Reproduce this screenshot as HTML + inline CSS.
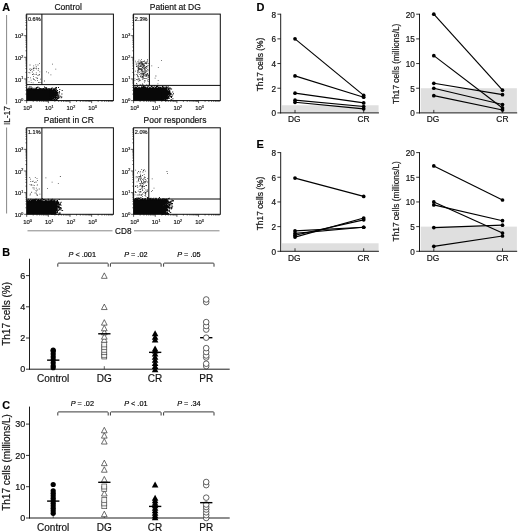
<!DOCTYPE html>
<html><head><meta charset="utf-8"><title>Figure</title>
<style>
html,body{margin:0;padding:0;background:#fff;}
body{width:520px;height:532px;overflow:hidden;font-family:"Liberation Sans",sans-serif;}
svg{display:block;will-change:transform;transform:translateZ(0);}
svg text{font-family:"Liberation Sans",sans-serif;stroke:#111;stroke-width:0.18px;}
</style></head><body>
<svg width="520" height="532" viewBox="0 0 520 532">
<rect width="520" height="532" fill="#fff"/>
<text x="68.20" y="10.00" font-size="8.5" text-anchor="middle" font-weight="normal" font-style="normal" fill="#111" >Control</text>
<rect x="26.70" y="89.20" width="24.50" height="11.40" fill="#080808"/>
<path d="M28.8 86.5h1v1h-1zM29.5 86.4h1v1h-1zM30.7 86.6h1v1h-1zM37.4 86.5h1v1h-1zM44.0 86.5h1v1h-1zM31.7 87.4h1v1h-1zM35.8 87.1h1v1h-1zM36.3 87.4h1v1h-1zM37.1 87.2h1v1h-1zM38.6 87.3h1v1h-1zM44.7 87.2h1v1h-1zM45.6 87.3h1v1h-1zM46.1 87.3h1v1h-1zM52.1 87.4h1v1h-1zM55.5 87.1h1v1h-1zM56.0 87.1h1v1h-1zM58.0 87.1h1v1h-1zM26.5 88.2h1v1h-1zM28.1 87.8h1v1h-1zM28.7 87.9h1v1h-1zM30.0 88.2h1v1h-1zM30.7 88.0h1v1h-1zM31.6 88.2h1v1h-1zM33.6 87.8h1v1h-1zM35.2 87.9h1v1h-1zM36.0 88.2h1v1h-1zM39.3 87.9h1v1h-1zM39.8 87.9h1v1h-1zM40.8 88.2h1v1h-1zM41.6 88.2h1v1h-1zM42.7 87.9h1v1h-1zM43.4 88.1h1v1h-1zM45.7 88.1h1v1h-1zM46.4 88.2h1v1h-1zM48.2 88.1h1v1h-1zM49.3 88.2h1v1h-1zM49.8 88.2h1v1h-1zM51.0 87.8h1v1h-1zM53.5 88.2h1v1h-1zM54.7 87.8h1v1h-1zM55.6 88.1h1v1h-1zM26.5 88.9h1v1h-1zM27.4 88.7h1v1h-1zM29.0 88.7h1v1h-1zM29.5 88.5h1v1h-1zM30.0 88.5h1v1h-1zM30.7 88.7h1v1h-1zM31.6 88.6h1v1h-1zM32.3 88.8h1v1h-1zM33.0 88.6h1v1h-1zM33.8 88.7h1v1h-1zM34.5 88.9h1v1h-1zM35.2 88.7h1v1h-1zM35.9 88.7h1v1h-1zM36.5 88.9h1v1h-1zM37.4 88.9h1v1h-1zM37.9 88.9h1v1h-1zM38.4 88.5h1v1h-1zM39.1 88.6h1v1h-1zM40.1 88.8h1v1h-1zM41.5 88.8h1v1h-1zM42.3 88.9h1v1h-1zM43.0 88.6h1v1h-1zM43.7 88.9h1v1h-1zM44.2 88.7h1v1h-1zM44.7 88.6h1v1h-1zM45.4 88.7h1v1h-1zM46.1 88.6h1v1h-1zM47.0 88.5h1v1h-1zM48.6 88.5h1v1h-1zM48.9 88.8h1v1h-1zM49.6 88.7h1v1h-1zM51.1 88.5h1v1h-1zM52.7 88.5h1v1h-1zM53.4 88.7h1v1h-1zM54.2 88.8h1v1h-1zM55.6 88.5h1v1h-1zM26.6 89.3h1v1h-1zM27.5 89.3h1v1h-1zM27.9 89.3h1v1h-1zM28.7 89.2h1v1h-1zM29.5 89.2h1v1h-1zM30.4 89.2h1v1h-1zM30.9 89.4h1v1h-1zM31.5 89.4h1v1h-1zM32.5 89.3h1v1h-1zM33.1 89.5h1v1h-1zM33.6 89.2h1v1h-1zM34.2 89.5h1v1h-1zM34.9 89.2h1v1h-1zM36.0 89.5h1v1h-1zM36.4 89.3h1v1h-1zM37.0 89.4h1v1h-1zM38.1 89.6h1v1h-1zM38.5 89.6h1v1h-1zM39.2 89.2h1v1h-1zM40.0 89.4h1v1h-1zM40.7 89.2h1v1h-1zM41.2 89.3h1v1h-1zM41.9 89.3h1v1h-1zM42.8 89.4h1v1h-1zM43.6 89.5h1v1h-1zM44.1 89.3h1v1h-1zM45.7 89.5h1v1h-1zM46.5 89.6h1v1h-1zM47.1 89.6h1v1h-1zM47.7 89.4h1v1h-1zM48.6 89.6h1v1h-1zM49.3 89.5h1v1h-1zM49.7 89.2h1v1h-1zM50.4 89.2h1v1h-1zM51.2 89.5h1v1h-1zM52.0 89.4h1v1h-1zM52.7 89.5h1v1h-1zM53.3 89.5h1v1h-1zM54.1 89.3h1v1h-1zM54.6 89.5h1v1h-1zM55.5 89.6h1v1h-1zM56.0 89.4h1v1h-1zM49.6 90.0h1v1h-1zM50.6 90.2h1v1h-1zM51.2 90.1h1v1h-1zM51.7 90.3h1v1h-1zM52.8 90.3h1v1h-1zM53.3 90.3h1v1h-1zM54.0 90.0h1v1h-1zM54.9 90.0h1v1h-1zM55.2 90.1h1v1h-1zM57.0 90.1h1v1h-1zM61.7 90.1h1v1h-1zM49.7 91.0h1v1h-1zM50.6 91.0h1v1h-1zM51.4 90.9h1v1h-1zM51.8 90.7h1v1h-1zM52.8 90.8h1v1h-1zM53.3 90.7h1v1h-1zM53.8 91.0h1v1h-1zM54.9 90.7h1v1h-1zM55.4 90.6h1v1h-1zM56.3 91.0h1v1h-1zM49.7 91.3h1v1h-1zM50.3 91.5h1v1h-1zM51.1 91.6h1v1h-1zM51.8 91.6h1v1h-1zM52.6 91.4h1v1h-1zM53.1 91.4h1v1h-1zM54.0 91.4h1v1h-1zM54.9 91.5h1v1h-1zM55.2 91.3h1v1h-1zM55.9 91.4h1v1h-1zM56.8 91.7h1v1h-1zM49.8 92.3h1v1h-1zM50.4 92.1h1v1h-1zM51.1 92.2h1v1h-1zM52.1 92.4h1v1h-1zM52.4 92.3h1v1h-1zM53.3 92.2h1v1h-1zM53.9 92.4h1v1h-1zM54.9 92.4h1v1h-1zM55.2 92.0h1v1h-1zM56.2 92.4h1v1h-1zM56.9 92.3h1v1h-1zM57.5 92.0h1v1h-1zM49.6 92.7h1v1h-1zM50.5 92.8h1v1h-1zM51.3 92.7h1v1h-1zM51.9 93.1h1v1h-1zM52.8 92.9h1v1h-1zM53.2 93.1h1v1h-1zM53.9 92.7h1v1h-1zM54.8 92.9h1v1h-1zM55.5 93.1h1v1h-1zM55.9 92.8h1v1h-1zM56.9 92.7h1v1h-1zM49.7 93.8h1v1h-1zM50.3 93.5h1v1h-1zM51.3 93.8h1v1h-1zM51.8 93.5h1v1h-1zM52.4 93.4h1v1h-1zM53.2 93.8h1v1h-1zM54.1 93.8h1v1h-1zM54.6 93.4h1v1h-1zM55.5 93.4h1v1h-1zM56.0 93.5h1v1h-1zM56.6 93.4h1v1h-1zM57.4 93.8h1v1h-1zM58.4 93.5h1v1h-1zM49.6 94.2h1v1h-1zM50.3 94.3h1v1h-1zM51.3 94.1h1v1h-1zM51.7 94.5h1v1h-1zM52.7 94.5h1v1h-1zM53.2 94.5h1v1h-1zM53.9 94.4h1v1h-1zM54.6 94.1h1v1h-1zM55.6 94.4h1v1h-1zM56.7 94.3h1v1h-1zM50.0 95.1h1v1h-1zM50.4 94.9h1v1h-1zM51.3 94.8h1v1h-1zM52.0 94.9h1v1h-1zM52.4 95.0h1v1h-1zM53.5 95.2h1v1h-1zM54.5 94.8h1v1h-1zM55.5 95.0h1v1h-1zM56.1 95.1h1v1h-1zM56.9 95.2h1v1h-1zM58.4 94.9h1v1h-1zM49.8 95.6h1v1h-1zM50.7 95.7h1v1h-1zM51.4 95.8h1v1h-1zM51.7 95.7h1v1h-1zM52.8 95.9h1v1h-1zM53.2 95.5h1v1h-1zM54.2 95.7h1v1h-1zM54.6 95.9h1v1h-1zM55.3 95.8h1v1h-1zM56.8 95.8h1v1h-1zM57.4 95.5h1v1h-1zM58.1 95.7h1v1h-1zM60.2 95.8h1v1h-1zM49.6 96.2h1v1h-1zM50.5 96.5h1v1h-1zM51.0 96.5h1v1h-1zM51.8 96.3h1v1h-1zM52.5 96.4h1v1h-1zM53.3 96.6h1v1h-1zM54.5 96.5h1v1h-1zM55.2 96.6h1v1h-1zM56.3 96.4h1v1h-1zM58.9 96.5h1v1h-1zM49.8 97.3h1v1h-1zM50.5 97.3h1v1h-1zM51.0 96.9h1v1h-1zM52.1 97.1h1v1h-1zM52.8 97.0h1v1h-1zM53.4 97.3h1v1h-1zM54.1 97.0h1v1h-1zM54.9 97.3h1v1h-1zM55.3 97.0h1v1h-1zM56.0 96.9h1v1h-1zM56.9 97.3h1v1h-1zM57.5 97.2h1v1h-1zM58.4 96.9h1v1h-1zM49.8 97.8h1v1h-1zM50.6 97.8h1v1h-1zM51.3 97.9h1v1h-1zM51.7 97.8h1v1h-1zM52.4 97.8h1v1h-1zM53.3 97.8h1v1h-1zM54.1 97.6h1v1h-1zM54.8 97.8h1v1h-1zM55.4 97.7h1v1h-1zM57.0 98.0h1v1h-1zM49.6 98.4h1v1h-1zM50.3 98.7h1v1h-1zM51.4 98.3h1v1h-1zM52.1 98.4h1v1h-1zM52.6 98.4h1v1h-1zM53.1 98.3h1v1h-1zM54.9 98.3h1v1h-1zM56.1 98.6h1v1h-1zM50.0 99.2h1v1h-1zM50.6 99.2h1v1h-1zM51.3 99.0h1v1h-1zM51.8 99.3h1v1h-1zM53.4 99.1h1v1h-1zM53.8 99.0h1v1h-1zM54.7 99.2h1v1h-1zM56.0 99.3h1v1h-1zM56.6 99.1h1v1h-1zM49.7 99.7h1v1h-1zM50.6 100.1h1v1h-1zM51.2 99.8h1v1h-1zM52.0 99.9h1v1h-1zM52.7 99.9h1v1h-1zM53.4 99.8h1v1h-1zM54.7 99.9h1v1h-1zM55.2 100.0h1v1h-1zM56.1 100.1h1v1h-1zM56.6 100.0h1v1h-1zM58.2 97.9h1v1h-1zM58.4 96.8h1v1h-1zM61.4 93.6h1v1h-1zM58.9 91.1h1v1h-1zM59.3 89.0h1v1h-1zM59.1 92.3h1v1h-1zM58.2 97.9h1v1h-1zM61.3 96.4h1v1h-1zM58.5 93.4h1v1h-1zM60.7 97.3h1v1h-1z" fill="#080808"/>
<path d="M33.4 79.3h.8v.8h-.8zM33.4 67.4h.8v.8h-.8zM35.6 67.9h.8v.8h-.8zM29.1 68.8h.8v.8h-.8zM39.1 62.9h.8v.8h-.8zM38.3 68.4h.8v.8h-.8zM35.7 77.2h.8v.8h-.8zM33.4 67.4h.8v.8h-.8zM37.9 68.2h.8v.8h-.8zM34.3 67.7h.8v.8h-.8zM32.9 77.9h.8v.8h-.8zM37.6 64.6h.8v.8h-.8zM34.6 74.0h.8v.8h-.8zM30.3 70.1h.8v.8h-.8zM36.2 74.0h.8v.8h-.8zM36.0 68.4h.8v.8h-.8zM37.2 77.7h.8v.8h-.8zM28.5 72.3h.8v.8h-.8zM33.1 67.9h.8v.8h-.8zM29.5 72.5h.8v.8h-.8zM33.0 68.2h.8v.8h-.8zM32.6 68.8h.8v.8h-.8zM33.1 76.0h.8v.8h-.8zM33.1 73.6h.8v.8h-.8zM39.4 71.4h.8v.8h-.8zM37.5 75.2h.8v.8h-.8zM38.6 74.6h.8v.8h-.8zM33.7 79.1h.8v.8h-.8zM31.9 71.6h.8v.8h-.8zM37.8 69.9h.8v.8h-.8zM30.7 79.8h.8v.8h-.8zM29.6 64.6h.8v.8h-.8zM36.7 78.3h.8v.8h-.8zM36.1 66.5h.8v.8h-.8zM35.4 64.4h.8v.8h-.8zM39.2 74.0h.8v.8h-.8zM33.4 70.0h.8v.8h-.8zM30.4 68.4h.8v.8h-.8zM35.8 66.4h.8v.8h-.8zM35.9 72.5h.8v.8h-.8zM32.2 74.1h.8v.8h-.8zM31.1 69.2h.8v.8h-.8zM33.3 65.5h.8v.8h-.8zM34.8 80.3h.8v.8h-.8zM32.7 82.4h.8v.8h-.8zM30.8 82.2h.8v.8h-.8zM30.0 77.4h.8v.8h-.8zM38.0 82.1h.8v.8h-.8zM39.1 82.2h.8v.8h-.8zM28.6 81.5h.8v.8h-.8zM37.1 80.3h.8v.8h-.8zM40.2 78.8h.8v.8h-.8zM40.6 82.1h.8v.8h-.8zM27.7 77.1h.8v.8h-.8zM52.0 63.7h.8v.8h-.8zM55.4 68.7h.8v.8h-.8zM44.0 80.6h.8v.8h-.8zM48.2 72.5h.8v.8h-.8zM50.5 74.4h.8v.8h-.8zM46.2 71.5h.8v.8h-.8z" fill="#2a2a2a"/>
<rect x="26.70" y="14.10" width="86.70" height="86.50" fill="none" stroke="#0a0a0a" stroke-width="1"/>
<line x1="41.90" y1="14.10" x2="41.90" y2="84.60" stroke="#080808" stroke-width="1.0"/>
<line x1="26.70" y1="84.60" x2="113.40" y2="84.60" stroke="#080808" stroke-width="1.0"/>
<text x="27.90" y="20.50" font-size="5.6" text-anchor="start" font-weight="normal" font-style="normal" fill="#222" >0.6%</text>
<path d="M26.70 100.60v2.5M26.70 100.60h-2.5M33.22 100.60v1.2M26.70 94.08h-1.2M37.03 100.60v1.2M26.70 90.27h-1.2M39.73 100.60v1.2M26.70 87.57h-1.2M41.83 100.60v1.2M26.70 85.47h-1.2M43.55 100.60v1.2M26.70 83.75h-1.2M45.00 100.60v1.2M26.70 82.30h-1.2M46.25 100.60v1.2M26.70 81.05h-1.2M47.36 100.60v1.2M26.70 79.94h-1.2M48.35 100.60v2.5M26.70 78.95h-2.5M54.87 100.60v1.2M26.70 72.43h-1.2M58.68 100.60v1.2M26.70 68.62h-1.2M61.38 100.60v1.2M26.70 65.92h-1.2M63.48 100.60v1.2M26.70 63.82h-1.2M65.20 100.60v1.2M26.70 62.10h-1.2M66.65 100.60v1.2M26.70 60.65h-1.2M67.90 100.60v1.2M26.70 59.40h-1.2M69.01 100.60v1.2M26.70 58.29h-1.2M70.00 100.60v2.5M26.70 57.30h-2.5M76.52 100.60v1.2M26.70 50.78h-1.2M80.33 100.60v1.2M26.70 46.97h-1.2M83.03 100.60v1.2M26.70 44.27h-1.2M85.13 100.60v1.2M26.70 42.17h-1.2M86.85 100.60v1.2M26.70 40.45h-1.2M88.30 100.60v1.2M26.70 39.00h-1.2M89.55 100.60v1.2M26.70 37.75h-1.2M90.66 100.60v1.2M26.70 36.64h-1.2M91.65 100.60v2.5M26.70 35.65h-2.5M98.17 100.60v1.2M26.70 29.13h-1.2M101.98 100.60v1.2M26.70 25.32h-1.2M104.68 100.60v1.2M26.70 22.62h-1.2M106.78 100.60v1.2M26.70 20.52h-1.2M108.50 100.60v1.2M26.70 18.80h-1.2M109.95 100.60v1.2M26.70 17.35h-1.2M111.20 100.60v1.2M26.70 16.10h-1.2M112.31 100.60v1.2M26.70 14.99h-1.2" stroke="#111" stroke-width="0.7" fill="none"/>
<text x="23.30" y="110.40" font-size="5.9" fill="#1a1a1a">10<tspan font-size="3.7" dy="-2.2">0</tspan></text>
<text x="14.70" y="103.20" font-size="5.9" fill="#1a1a1a">10<tspan font-size="3.7" dy="-2.2">0</tspan></text>
<text x="44.95" y="110.40" font-size="5.9" fill="#1a1a1a">10<tspan font-size="3.7" dy="-2.2">1</tspan></text>
<text x="14.70" y="81.55" font-size="5.9" fill="#1a1a1a">10<tspan font-size="3.7" dy="-2.2">1</tspan></text>
<text x="66.60" y="110.40" font-size="5.9" fill="#1a1a1a">10<tspan font-size="3.7" dy="-2.2">2</tspan></text>
<text x="14.70" y="59.90" font-size="5.9" fill="#1a1a1a">10<tspan font-size="3.7" dy="-2.2">2</tspan></text>
<text x="88.25" y="110.40" font-size="5.9" fill="#1a1a1a">10<tspan font-size="3.7" dy="-2.2">3</tspan></text>
<text x="14.70" y="38.25" font-size="5.9" fill="#1a1a1a">10<tspan font-size="3.7" dy="-2.2">3</tspan></text>
<text x="175.30" y="10.00" font-size="8.5" text-anchor="middle" font-weight="normal" font-style="normal" fill="#111" >Patient at DG</text>
<rect x="133.60" y="88.00" width="29.00" height="12.60" fill="#080808"/>
<path d="M142.9 85.5h1v1h-1zM153.8 85.4h1v1h-1zM156.9 85.6h1v1h-1zM133.6 86.3h1v1h-1zM136.9 85.9h1v1h-1zM141.1 86.3h1v1h-1zM142.8 86.2h1v1h-1zM143.4 86.0h1v1h-1zM144.6 86.3h1v1h-1zM147.7 86.1h1v1h-1zM150.9 86.0h1v1h-1zM151.6 85.9h1v1h-1zM156.0 86.0h1v1h-1zM156.9 86.0h1v1h-1zM161.8 86.3h1v1h-1zM162.1 86.0h1v1h-1zM165.9 86.2h1v1h-1zM167.7 86.2h1v1h-1zM133.5 86.6h1v1h-1zM135.1 86.6h1v1h-1zM135.9 86.7h1v1h-1zM138.5 86.6h1v1h-1zM141.2 87.0h1v1h-1zM142.1 86.6h1v1h-1zM142.5 86.9h1v1h-1zM143.2 87.0h1v1h-1zM144.1 86.6h1v1h-1zM145.0 86.7h1v1h-1zM145.5 86.7h1v1h-1zM147.1 86.6h1v1h-1zM149.0 86.7h1v1h-1zM149.6 86.7h1v1h-1zM152.4 87.0h1v1h-1zM153.3 86.7h1v1h-1zM154.8 86.7h1v1h-1zM155.1 87.0h1v1h-1zM155.8 86.8h1v1h-1zM157.4 86.6h1v1h-1zM158.2 86.9h1v1h-1zM158.6 86.6h1v1h-1zM160.1 86.7h1v1h-1zM162.9 86.6h1v1h-1zM164.5 86.6h1v1h-1zM166.0 87.0h1v1h-1zM167.4 86.8h1v1h-1zM133.4 87.6h1v1h-1zM134.5 87.4h1v1h-1zM134.9 87.6h1v1h-1zM135.9 87.7h1v1h-1zM136.4 87.5h1v1h-1zM136.9 87.7h1v1h-1zM137.6 87.3h1v1h-1zM138.7 87.3h1v1h-1zM139.3 87.3h1v1h-1zM139.9 87.5h1v1h-1zM140.7 87.3h1v1h-1zM141.8 87.3h1v1h-1zM142.7 87.4h1v1h-1zM143.4 87.3h1v1h-1zM144.3 87.3h1v1h-1zM144.9 87.3h1v1h-1zM145.7 87.4h1v1h-1zM146.4 87.5h1v1h-1zM147.1 87.6h1v1h-1zM147.5 87.4h1v1h-1zM148.5 87.7h1v1h-1zM149.9 87.3h1v1h-1zM150.6 87.7h1v1h-1zM151.1 87.6h1v1h-1zM151.8 87.3h1v1h-1zM152.5 87.3h1v1h-1zM153.4 87.6h1v1h-1zM154.8 87.7h1v1h-1zM156.1 87.4h1v1h-1zM156.6 87.5h1v1h-1zM158.0 87.5h1v1h-1zM159.0 87.4h1v1h-1zM159.6 87.3h1v1h-1zM160.4 87.5h1v1h-1zM160.9 87.5h1v1h-1zM161.4 87.3h1v1h-1zM162.3 87.4h1v1h-1zM162.8 87.5h1v1h-1zM163.8 87.5h1v1h-1zM164.3 87.6h1v1h-1zM165.1 87.6h1v1h-1zM165.7 87.4h1v1h-1zM166.5 87.4h1v1h-1zM167.0 87.4h1v1h-1zM168.6 87.5h1v1h-1zM133.6 88.3h1v1h-1zM134.2 88.4h1v1h-1zM134.8 88.1h1v1h-1zM135.8 88.3h1v1h-1zM136.6 88.2h1v1h-1zM137.2 88.3h1v1h-1zM137.9 88.3h1v1h-1zM138.3 88.4h1v1h-1zM139.3 88.2h1v1h-1zM140.1 88.2h1v1h-1zM140.7 88.4h1v1h-1zM141.2 88.2h1v1h-1zM142.1 88.1h1v1h-1zM142.7 88.1h1v1h-1zM143.5 88.4h1v1h-1zM144.1 88.0h1v1h-1zM144.6 88.2h1v1h-1zM145.3 88.4h1v1h-1zM146.4 88.4h1v1h-1zM146.8 88.2h1v1h-1zM147.4 88.0h1v1h-1zM148.3 88.4h1v1h-1zM149.0 88.4h1v1h-1zM149.7 88.3h1v1h-1zM150.3 88.2h1v1h-1zM151.3 88.3h1v1h-1zM151.6 88.1h1v1h-1zM152.5 88.2h1v1h-1zM153.4 88.2h1v1h-1zM154.0 88.4h1v1h-1zM154.6 88.4h1v1h-1zM155.2 88.4h1v1h-1zM156.0 88.0h1v1h-1zM156.8 88.4h1v1h-1zM158.1 88.0h1v1h-1zM158.8 88.2h1v1h-1zM159.3 88.3h1v1h-1zM160.1 88.4h1v1h-1zM160.7 88.2h1v1h-1zM161.5 88.3h1v1h-1zM162.2 88.4h1v1h-1zM163.1 88.0h1v1h-1zM163.7 88.1h1v1h-1zM164.4 88.4h1v1h-1zM165.1 88.0h1v1h-1zM165.9 88.0h1v1h-1zM166.3 88.2h1v1h-1zM168.1 88.0h1v1h-1zM168.7 88.1h1v1h-1zM161.4 89.1h1v1h-1zM162.5 88.9h1v1h-1zM162.9 88.7h1v1h-1zM163.9 88.8h1v1h-1zM164.6 88.8h1v1h-1zM165.3 88.9h1v1h-1zM165.7 88.8h1v1h-1zM166.4 88.8h1v1h-1zM168.0 88.8h1v1h-1zM168.5 88.7h1v1h-1zM161.5 89.5h1v1h-1zM162.2 89.5h1v1h-1zM163.1 89.5h1v1h-1zM163.8 89.4h1v1h-1zM164.6 89.4h1v1h-1zM165.3 89.8h1v1h-1zM165.7 89.7h1v1h-1zM166.7 89.5h1v1h-1zM167.8 89.6h1v1h-1zM168.7 89.5h1v1h-1zM161.5 90.4h1v1h-1zM162.4 90.3h1v1h-1zM162.9 90.1h1v1h-1zM163.9 90.2h1v1h-1zM164.2 90.3h1v1h-1zM165.1 90.2h1v1h-1zM165.7 90.2h1v1h-1zM166.6 90.2h1v1h-1zM167.4 90.4h1v1h-1zM169.2 90.1h1v1h-1zM161.7 90.8h1v1h-1zM162.5 91.1h1v1h-1zM162.8 90.8h1v1h-1zM163.5 90.9h1v1h-1zM164.2 90.9h1v1h-1zM164.9 91.2h1v1h-1zM165.9 90.9h1v1h-1zM166.6 90.9h1v1h-1zM167.4 91.1h1v1h-1zM167.7 91.2h1v1h-1zM168.4 90.9h1v1h-1zM169.4 90.9h1v1h-1zM161.8 91.7h1v1h-1zM162.4 91.8h1v1h-1zM163.1 91.7h1v1h-1zM163.8 91.7h1v1h-1zM164.6 91.5h1v1h-1zM164.9 91.8h1v1h-1zM165.7 91.7h1v1h-1zM166.6 91.7h1v1h-1zM167.0 91.6h1v1h-1zM167.8 91.6h1v1h-1zM168.7 91.8h1v1h-1zM169.2 91.7h1v1h-1zM161.6 92.5h1v1h-1zM162.4 92.4h1v1h-1zM163.1 92.6h1v1h-1zM163.6 92.3h1v1h-1zM164.2 92.3h1v1h-1zM165.2 92.4h1v1h-1zM165.7 92.4h1v1h-1zM166.3 92.2h1v1h-1zM167.4 92.5h1v1h-1zM168.0 92.6h1v1h-1zM168.4 92.4h1v1h-1zM169.1 92.4h1v1h-1zM170.2 92.5h1v1h-1zM161.8 93.0h1v1h-1zM162.4 93.3h1v1h-1zM162.8 93.2h1v1h-1zM163.8 93.0h1v1h-1zM164.6 93.0h1v1h-1zM165.1 93.0h1v1h-1zM165.7 92.9h1v1h-1zM166.6 93.3h1v1h-1zM167.4 93.3h1v1h-1zM167.9 92.9h1v1h-1zM168.6 92.9h1v1h-1zM170.0 93.3h1v1h-1zM170.5 93.1h1v1h-1zM173.0 93.3h1v1h-1zM161.6 93.8h1v1h-1zM162.3 93.9h1v1h-1zM163.2 93.6h1v1h-1zM163.7 93.8h1v1h-1zM164.2 93.6h1v1h-1zM165.1 94.0h1v1h-1zM166.0 94.0h1v1h-1zM166.6 94.0h1v1h-1zM167.3 93.9h1v1h-1zM167.9 94.0h1v1h-1zM168.7 93.7h1v1h-1zM169.5 93.6h1v1h-1zM170.1 93.8h1v1h-1zM170.8 93.7h1v1h-1zM161.8 94.5h1v1h-1zM162.5 94.4h1v1h-1zM163.0 94.4h1v1h-1zM163.7 94.4h1v1h-1zM164.2 94.5h1v1h-1zM164.9 94.5h1v1h-1zM165.8 94.7h1v1h-1zM166.6 94.6h1v1h-1zM167.4 94.6h1v1h-1zM168.1 94.4h1v1h-1zM168.8 94.5h1v1h-1zM170.1 94.3h1v1h-1zM172.1 94.4h1v1h-1zM161.8 95.2h1v1h-1zM162.5 95.0h1v1h-1zM162.9 95.3h1v1h-1zM163.9 95.0h1v1h-1zM164.5 95.4h1v1h-1zM164.9 95.3h1v1h-1zM165.8 95.4h1v1h-1zM166.7 95.3h1v1h-1zM167.0 95.2h1v1h-1zM169.1 95.0h1v1h-1zM161.7 96.1h1v1h-1zM162.1 95.8h1v1h-1zM163.0 96.1h1v1h-1zM163.5 95.7h1v1h-1zM164.5 95.8h1v1h-1zM164.9 96.1h1v1h-1zM166.0 96.0h1v1h-1zM166.4 95.8h1v1h-1zM167.7 95.7h1v1h-1zM168.6 95.9h1v1h-1zM170.7 95.8h1v1h-1zM171.4 96.1h1v1h-1zM161.5 96.6h1v1h-1zM162.5 96.8h1v1h-1zM163.0 96.7h1v1h-1zM163.8 96.7h1v1h-1zM164.3 96.5h1v1h-1zM165.3 96.8h1v1h-1zM165.7 96.7h1v1h-1zM166.5 96.7h1v1h-1zM167.2 96.6h1v1h-1zM167.8 96.5h1v1h-1zM161.6 97.2h1v1h-1zM162.1 97.2h1v1h-1zM163.1 97.3h1v1h-1zM163.6 97.5h1v1h-1zM164.2 97.1h1v1h-1zM165.3 97.2h1v1h-1zM165.8 97.5h1v1h-1zM166.5 97.5h1v1h-1zM167.1 97.1h1v1h-1zM167.8 97.4h1v1h-1zM168.5 97.2h1v1h-1zM161.5 97.8h1v1h-1zM162.3 98.2h1v1h-1zM163.2 97.9h1v1h-1zM163.8 98.1h1v1h-1zM164.5 97.9h1v1h-1zM165.1 97.8h1v1h-1zM165.7 98.0h1v1h-1zM166.4 98.0h1v1h-1zM167.4 98.0h1v1h-1zM168.7 98.1h1v1h-1zM161.6 98.8h1v1h-1zM162.2 98.8h1v1h-1zM163.1 98.8h1v1h-1zM163.6 98.8h1v1h-1zM165.0 98.7h1v1h-1zM166.3 98.7h1v1h-1zM161.8 99.3h1v1h-1zM162.1 99.5h1v1h-1zM162.8 99.2h1v1h-1zM163.6 99.6h1v1h-1zM164.5 99.3h1v1h-1zM165.1 99.3h1v1h-1zM166.6 99.2h1v1h-1zM161.5 100.0h1v1h-1zM162.4 100.0h1v1h-1zM163.7 99.9h1v1h-1zM164.6 100.0h1v1h-1zM165.3 100.0h1v1h-1zM165.8 100.3h1v1h-1zM166.6 100.1h1v1h-1zM170.6 99.3h1v1h-1zM169.7 87.5h1v1h-1zM170.6 96.4h1v1h-1zM170.2 88.6h1v1h-1zM171.1 88.5h1v1h-1zM172.2 91.5h1v1h-1zM172.4 98.2h1v1h-1zM171.2 99.4h1v1h-1zM171.0 97.1h1v1h-1zM169.9 95.8h1v1h-1z" fill="#080808"/>
<path d="M137.9 69.3h.8v.8h-.8zM141.0 62.5h.8v.8h-.8zM138.5 63.6h.8v.8h-.8zM147.6 70.2h.8v.8h-.8zM144.6 72.4h.8v.8h-.8zM135.1 70.8h.8v.8h-.8zM147.3 65.5h.8v.8h-.8zM143.5 72.0h.8v.8h-.8zM139.8 65.5h.8v.8h-.8zM140.5 73.7h.8v.8h-.8zM141.5 61.7h.8v.8h-.8zM138.6 59.5h.8v.8h-.8zM139.8 66.3h.8v.8h-.8zM137.7 77.4h.8v.8h-.8zM142.7 77.2h.8v.8h-.8zM144.8 68.6h.8v.8h-.8zM137.9 77.9h.8v.8h-.8zM142.1 72.6h.8v.8h-.8zM144.7 69.7h.8v.8h-.8zM137.8 67.4h.8v.8h-.8zM141.9 64.1h.8v.8h-.8zM147.3 73.2h.8v.8h-.8zM137.1 71.5h.8v.8h-.8zM142.4 77.7h.8v.8h-.8zM143.6 64.4h.8v.8h-.8zM142.5 76.1h.8v.8h-.8zM137.4 70.1h.8v.8h-.8zM138.5 66.9h.8v.8h-.8zM138.5 70.8h.8v.8h-.8zM140.7 63.2h.8v.8h-.8zM140.1 69.3h.8v.8h-.8zM143.3 75.6h.8v.8h-.8zM140.6 65.0h.8v.8h-.8zM144.6 70.1h.8v.8h-.8zM141.8 67.4h.8v.8h-.8zM142.9 75.2h.8v.8h-.8zM145.1 77.9h.8v.8h-.8zM140.6 64.9h.8v.8h-.8zM147.1 60.4h.8v.8h-.8zM141.1 69.8h.8v.8h-.8zM143.7 74.6h.8v.8h-.8zM141.0 69.5h.8v.8h-.8zM142.9 73.1h.8v.8h-.8zM142.6 69.8h.8v.8h-.8zM139.2 78.6h.8v.8h-.8zM146.8 73.4h.8v.8h-.8zM147.4 74.3h.8v.8h-.8zM146.0 66.1h.8v.8h-.8zM144.1 69.0h.8v.8h-.8zM145.9 76.2h.8v.8h-.8zM140.8 64.1h.8v.8h-.8zM139.6 65.8h.8v.8h-.8zM137.8 70.8h.8v.8h-.8zM137.0 74.6h.8v.8h-.8zM141.2 61.2h.8v.8h-.8zM141.7 70.8h.8v.8h-.8zM140.4 73.1h.8v.8h-.8zM139.5 69.2h.8v.8h-.8zM141.9 72.5h.8v.8h-.8zM143.0 73.6h.8v.8h-.8zM141.7 63.2h.8v.8h-.8zM146.7 75.0h.8v.8h-.8zM140.4 68.5h.8v.8h-.8zM145.7 75.6h.8v.8h-.8zM144.6 71.8h.8v.8h-.8zM142.1 64.6h.8v.8h-.8zM140.4 61.8h.8v.8h-.8zM146.3 66.0h.8v.8h-.8zM141.4 74.4h.8v.8h-.8zM144.1 67.0h.8v.8h-.8zM138.5 64.2h.8v.8h-.8zM141.9 71.0h.8v.8h-.8zM137.8 68.8h.8v.8h-.8zM143.4 64.3h.8v.8h-.8zM142.3 63.8h.8v.8h-.8zM138.4 60.8h.8v.8h-.8zM140.0 66.3h.8v.8h-.8zM138.9 69.0h.8v.8h-.8zM136.1 66.1h.8v.8h-.8zM142.4 73.9h.8v.8h-.8zM137.1 72.4h.8v.8h-.8zM138.0 65.2h.8v.8h-.8zM138.1 66.8h.8v.8h-.8zM143.7 73.0h.8v.8h-.8zM136.0 74.3h.8v.8h-.8zM141.3 62.3h.8v.8h-.8zM146.4 78.1h.8v.8h-.8zM147.7 79.1h.8v.8h-.8zM143.2 74.0h.8v.8h-.8zM139.8 63.3h.8v.8h-.8zM146.8 61.6h.8v.8h-.8zM142.1 75.9h.8v.8h-.8zM137.9 69.7h.8v.8h-.8zM141.8 76.4h.8v.8h-.8zM136.6 65.0h.8v.8h-.8zM141.9 77.5h.8v.8h-.8zM147.1 59.2h.8v.8h-.8zM140.3 62.1h.8v.8h-.8zM135.8 63.9h.8v.8h-.8zM142.1 70.6h.8v.8h-.8zM139.7 79.7h.8v.8h-.8zM144.7 66.7h.8v.8h-.8zM140.5 66.3h.8v.8h-.8zM137.3 67.4h.8v.8h-.8zM144.8 74.6h.8v.8h-.8zM139.9 68.0h.8v.8h-.8zM144.9 68.7h.8v.8h-.8zM147.7 63.1h.8v.8h-.8zM146.3 67.9h.8v.8h-.8zM138.5 61.8h.8v.8h-.8zM146.2 62.6h.8v.8h-.8zM142.9 66.1h.8v.8h-.8zM144.4 70.7h.8v.8h-.8zM140.1 76.4h.8v.8h-.8zM138.7 66.3h.8v.8h-.8zM145.6 67.5h.8v.8h-.8zM138.7 62.2h.8v.8h-.8zM141.0 65.6h.8v.8h-.8zM138.3 76.3h.8v.8h-.8zM147.4 69.1h.8v.8h-.8zM141.8 66.5h.8v.8h-.8zM144.5 62.9h.8v.8h-.8zM143.2 61.2h.8v.8h-.8zM143.8 64.5h.8v.8h-.8zM141.8 70.7h.8v.8h-.8zM145.2 62.3h.8v.8h-.8zM139.2 63.1h.8v.8h-.8zM140.3 60.5h.8v.8h-.8zM139.0 72.3h.8v.8h-.8zM138.2 68.1h.8v.8h-.8zM140.5 72.7h.8v.8h-.8zM139.6 64.4h.8v.8h-.8zM141.2 70.4h.8v.8h-.8zM138.6 68.8h.8v.8h-.8zM145.7 61.5h.8v.8h-.8zM143.6 75.6h.8v.8h-.8zM142.0 68.8h.8v.8h-.8zM138.3 63.0h.8v.8h-.8zM142.9 67.2h.8v.8h-.8zM140.5 70.8h.8v.8h-.8zM145.0 70.7h.8v.8h-.8zM140.4 61.6h.8v.8h-.8zM142.8 65.6h.8v.8h-.8zM144.9 73.8h.8v.8h-.8zM141.9 76.0h.8v.8h-.8zM146.7 66.8h.8v.8h-.8zM142.7 75.2h.8v.8h-.8zM142.7 64.7h.8v.8h-.8zM144.2 61.4h.8v.8h-.8zM136.6 63.0h.8v.8h-.8zM141.9 71.1h.8v.8h-.8zM137.0 61.4h.8v.8h-.8zM142.4 60.9h.8v.8h-.8zM138.2 65.4h.8v.8h-.8zM144.5 63.3h.8v.8h-.8zM136.7 66.1h.8v.8h-.8zM141.2 72.8h.8v.8h-.8zM140.4 75.5h.8v.8h-.8zM144.1 68.1h.8v.8h-.8zM146.8 72.9h.8v.8h-.8zM145.0 72.0h.8v.8h-.8zM144.1 65.0h.8v.8h-.8zM142.8 77.3h.8v.8h-.8zM144.5 65.7h.8v.8h-.8zM142.4 77.4h.8v.8h-.8zM145.2 75.8h.8v.8h-.8zM142.2 67.1h.8v.8h-.8zM146.2 63.4h.8v.8h-.8zM135.0 60.8h.8v.8h-.8zM144.1 70.8h.8v.8h-.8zM145.3 62.9h.8v.8h-.8zM141.9 79.2h.8v.8h-.8zM145.6 71.7h.8v.8h-.8zM145.9 69.9h.8v.8h-.8zM141.8 68.9h.8v.8h-.8zM142.3 62.6h.8v.8h-.8zM141.2 58.9h.8v.8h-.8zM143.3 63.9h.8v.8h-.8zM138.1 72.4h.8v.8h-.8zM139.0 68.1h.8v.8h-.8zM143.9 73.3h.8v.8h-.8zM142.5 62.9h.8v.8h-.8zM143.1 78.5h.8v.8h-.8zM135.6 62.5h.8v.8h-.8zM143.0 68.3h.8v.8h-.8zM146.8 73.8h.8v.8h-.8zM143.1 74.1h.8v.8h-.8zM136.7 64.8h.8v.8h-.8zM140.9 68.9h.8v.8h-.8zM141.1 67.9h.8v.8h-.8zM144.2 60.4h.8v.8h-.8zM145.2 67.2h.8v.8h-.8zM143.1 70.9h.8v.8h-.8zM140.8 75.8h.8v.8h-.8zM146.5 71.1h.8v.8h-.8zM145.2 67.1h.8v.8h-.8zM147.7 65.3h.8v.8h-.8zM141.8 73.5h.8v.8h-.8zM143.4 63.4h.8v.8h-.8zM143.6 65.6h.8v.8h-.8zM137.7 79.1h.8v.8h-.8zM146.1 84.5h.8v.8h-.8zM147.5 75.7h.8v.8h-.8zM144.1 80.0h.8v.8h-.8zM140.2 75.8h.8v.8h-.8zM136.3 79.1h.8v.8h-.8zM141.4 76.9h.8v.8h-.8zM139.6 80.0h.8v.8h-.8zM145.2 80.4h.8v.8h-.8zM136.7 83.7h.8v.8h-.8zM139.6 84.5h.8v.8h-.8zM148.3 75.5h.8v.8h-.8zM142.7 84.5h.8v.8h-.8zM139.9 80.0h.8v.8h-.8zM138.9 74.3h.8v.8h-.8zM137.3 75.4h.8v.8h-.8zM138.4 80.9h.8v.8h-.8zM142.4 84.3h.8v.8h-.8zM144.1 77.9h.8v.8h-.8zM147.9 80.9h.8v.8h-.8zM142.1 83.4h.8v.8h-.8zM143.9 77.9h.8v.8h-.8zM143.0 77.3h.8v.8h-.8zM148.2 76.7h.8v.8h-.8zM148.2 74.7h.8v.8h-.8zM134.5 80.0h.8v.8h-.8zM137.3 79.5h.8v.8h-.8zM136.1 83.1h.8v.8h-.8zM143.9 81.5h.8v.8h-.8zM147.6 84.8h.8v.8h-.8zM144.0 81.8h.8v.8h-.8zM134.4 74.5h.8v.8h-.8zM140.5 84.6h.8v.8h-.8zM138.8 80.2h.8v.8h-.8zM134.5 78.5h.8v.8h-.8zM147.2 80.4h.8v.8h-.8zM146.1 74.1h.8v.8h-.8zM137.3 76.0h.8v.8h-.8zM146.2 75.1h.8v.8h-.8zM147.6 76.9h.8v.8h-.8zM157.9 66.9h.8v.8h-.8zM157.5 83.5h.8v.8h-.8zM161.1 60.2h.8v.8h-.8zM157.8 80.0h.8v.8h-.8zM154.7 77.8h.8v.8h-.8zM151.4 65.5h.8v.8h-.8zM155.5 75.6h.8v.8h-.8z" fill="#2a2a2a"/>
<rect x="133.60" y="14.10" width="86.70" height="86.50" fill="none" stroke="#0a0a0a" stroke-width="1"/>
<line x1="149.40" y1="14.10" x2="149.40" y2="85.40" stroke="#080808" stroke-width="1.0"/>
<line x1="133.60" y1="85.40" x2="220.30" y2="85.40" stroke="#080808" stroke-width="1.0"/>
<text x="134.80" y="20.50" font-size="5.6" text-anchor="start" font-weight="normal" font-style="normal" fill="#222" >2.3%</text>
<path d="M133.60 100.60v2.5M133.60 100.60h-2.5M140.12 100.60v1.2M133.60 94.08h-1.2M143.93 100.60v1.2M133.60 90.27h-1.2M146.63 100.60v1.2M133.60 87.57h-1.2M148.73 100.60v1.2M133.60 85.47h-1.2M150.45 100.60v1.2M133.60 83.75h-1.2M151.90 100.60v1.2M133.60 82.30h-1.2M153.15 100.60v1.2M133.60 81.05h-1.2M154.26 100.60v1.2M133.60 79.94h-1.2M155.25 100.60v2.5M133.60 78.95h-2.5M161.77 100.60v1.2M133.60 72.43h-1.2M165.58 100.60v1.2M133.60 68.62h-1.2M168.28 100.60v1.2M133.60 65.92h-1.2M170.38 100.60v1.2M133.60 63.82h-1.2M172.10 100.60v1.2M133.60 62.10h-1.2M173.55 100.60v1.2M133.60 60.65h-1.2M174.80 100.60v1.2M133.60 59.40h-1.2M175.91 100.60v1.2M133.60 58.29h-1.2M176.90 100.60v2.5M133.60 57.30h-2.5M183.42 100.60v1.2M133.60 50.78h-1.2M187.23 100.60v1.2M133.60 46.97h-1.2M189.93 100.60v1.2M133.60 44.27h-1.2M192.03 100.60v1.2M133.60 42.17h-1.2M193.75 100.60v1.2M133.60 40.45h-1.2M195.20 100.60v1.2M133.60 39.00h-1.2M196.45 100.60v1.2M133.60 37.75h-1.2M197.56 100.60v1.2M133.60 36.64h-1.2M198.55 100.60v2.5M133.60 35.65h-2.5M205.07 100.60v1.2M133.60 29.13h-1.2M208.88 100.60v1.2M133.60 25.32h-1.2M211.58 100.60v1.2M133.60 22.62h-1.2M213.68 100.60v1.2M133.60 20.52h-1.2M215.40 100.60v1.2M133.60 18.80h-1.2M216.85 100.60v1.2M133.60 17.35h-1.2M218.10 100.60v1.2M133.60 16.10h-1.2M219.21 100.60v1.2M133.60 14.99h-1.2" stroke="#111" stroke-width="0.7" fill="none"/>
<text x="130.20" y="110.40" font-size="5.9" fill="#1a1a1a">10<tspan font-size="3.7" dy="-2.2">0</tspan></text>
<text x="121.60" y="103.20" font-size="5.9" fill="#1a1a1a">10<tspan font-size="3.7" dy="-2.2">0</tspan></text>
<text x="151.85" y="110.40" font-size="5.9" fill="#1a1a1a">10<tspan font-size="3.7" dy="-2.2">1</tspan></text>
<text x="121.60" y="81.55" font-size="5.9" fill="#1a1a1a">10<tspan font-size="3.7" dy="-2.2">1</tspan></text>
<text x="173.50" y="110.40" font-size="5.9" fill="#1a1a1a">10<tspan font-size="3.7" dy="-2.2">2</tspan></text>
<text x="121.60" y="59.90" font-size="5.9" fill="#1a1a1a">10<tspan font-size="3.7" dy="-2.2">2</tspan></text>
<text x="195.15" y="110.40" font-size="5.9" fill="#1a1a1a">10<tspan font-size="3.7" dy="-2.2">3</tspan></text>
<text x="121.60" y="38.25" font-size="5.9" fill="#1a1a1a">10<tspan font-size="3.7" dy="-2.2">3</tspan></text>
<text x="68.80" y="123.40" font-size="8.5" text-anchor="middle" font-weight="normal" font-style="normal" fill="#111" >Patient in CR</text>
<rect x="26.70" y="200.90" width="25.50" height="13.40" fill="#080808"/>
<path d="M41.9 198.3h1v1h-1zM27.9 198.8h1v1h-1zM30.3 198.8h1v1h-1zM32.4 199.1h1v1h-1zM33.8 199.0h1v1h-1zM35.3 198.8h1v1h-1zM35.7 198.8h1v1h-1zM36.6 199.2h1v1h-1zM38.0 198.9h1v1h-1zM40.5 199.0h1v1h-1zM42.8 199.0h1v1h-1zM43.6 199.0h1v1h-1zM47.7 198.8h1v1h-1zM51.3 199.2h1v1h-1zM51.8 198.8h1v1h-1zM58.7 199.1h1v1h-1zM26.5 199.6h1v1h-1zM29.0 199.8h1v1h-1zM30.4 199.8h1v1h-1zM31.4 199.7h1v1h-1zM32.2 199.6h1v1h-1zM33.0 199.6h1v1h-1zM33.7 199.7h1v1h-1zM34.5 199.5h1v1h-1zM35.0 199.8h1v1h-1zM37.1 199.9h1v1h-1zM37.8 199.6h1v1h-1zM38.7 199.9h1v1h-1zM39.4 199.6h1v1h-1zM39.9 199.6h1v1h-1zM40.8 199.8h1v1h-1zM41.3 199.8h1v1h-1zM44.7 199.6h1v1h-1zM45.8 199.7h1v1h-1zM48.3 199.5h1v1h-1zM50.4 199.6h1v1h-1zM51.3 199.9h1v1h-1zM53.3 199.6h1v1h-1zM54.5 199.6h1v1h-1zM57.0 199.9h1v1h-1zM26.6 200.2h1v1h-1zM27.5 200.3h1v1h-1zM28.2 200.2h1v1h-1zM28.9 200.5h1v1h-1zM29.4 200.6h1v1h-1zM30.9 200.4h1v1h-1zM31.4 200.3h1v1h-1zM32.4 200.4h1v1h-1zM32.9 200.3h1v1h-1zM33.6 200.6h1v1h-1zM34.6 200.3h1v1h-1zM35.0 200.4h1v1h-1zM35.6 200.5h1v1h-1zM36.4 200.5h1v1h-1zM37.4 200.2h1v1h-1zM37.8 200.5h1v1h-1zM38.8 200.4h1v1h-1zM39.4 200.2h1v1h-1zM40.1 200.4h1v1h-1zM41.4 200.3h1v1h-1zM41.9 200.2h1v1h-1zM42.8 200.4h1v1h-1zM43.6 200.4h1v1h-1zM44.9 200.4h1v1h-1zM45.8 200.3h1v1h-1zM46.9 200.5h1v1h-1zM47.6 200.2h1v1h-1zM48.9 200.5h1v1h-1zM49.7 200.3h1v1h-1zM50.4 200.4h1v1h-1zM51.9 200.2h1v1h-1zM52.7 200.4h1v1h-1zM53.2 200.5h1v1h-1zM54.2 200.3h1v1h-1zM54.5 200.3h1v1h-1zM56.2 200.4h1v1h-1zM56.6 200.2h1v1h-1zM26.8 200.9h1v1h-1zM27.5 201.1h1v1h-1zM28.2 201.1h1v1h-1zM28.8 201.3h1v1h-1zM29.6 201.0h1v1h-1zM30.4 201.3h1v1h-1zM30.7 201.2h1v1h-1zM31.8 201.3h1v1h-1zM32.2 201.3h1v1h-1zM33.2 201.1h1v1h-1zM33.9 201.1h1v1h-1zM34.5 201.1h1v1h-1zM35.0 201.3h1v1h-1zM35.6 201.0h1v1h-1zM36.3 201.2h1v1h-1zM37.0 201.0h1v1h-1zM38.1 201.3h1v1h-1zM38.8 201.1h1v1h-1zM39.2 201.3h1v1h-1zM40.1 201.0h1v1h-1zM40.9 201.1h1v1h-1zM41.6 200.9h1v1h-1zM42.1 201.2h1v1h-1zM42.6 201.3h1v1h-1zM43.6 201.3h1v1h-1zM44.3 201.0h1v1h-1zM44.8 201.3h1v1h-1zM45.6 201.1h1v1h-1zM46.4 201.2h1v1h-1zM46.9 201.0h1v1h-1zM47.8 201.2h1v1h-1zM48.4 200.9h1v1h-1zM49.1 201.1h1v1h-1zM49.6 201.2h1v1h-1zM50.7 200.9h1v1h-1zM51.3 201.1h1v1h-1zM51.9 201.0h1v1h-1zM52.4 201.2h1v1h-1zM53.5 201.1h1v1h-1zM54.1 200.9h1v1h-1zM54.6 201.3h1v1h-1zM55.5 201.3h1v1h-1zM56.2 201.3h1v1h-1zM56.6 201.1h1v1h-1zM57.3 201.0h1v1h-1zM51.0 202.0h1v1h-1zM51.7 201.9h1v1h-1zM52.6 201.7h1v1h-1zM53.2 201.9h1v1h-1zM54.0 201.9h1v1h-1zM54.7 201.6h1v1h-1zM55.5 201.6h1v1h-1zM56.2 201.6h1v1h-1zM57.0 201.6h1v1h-1zM57.3 201.7h1v1h-1zM58.2 201.7h1v1h-1zM51.3 202.6h1v1h-1zM51.8 202.3h1v1h-1zM52.6 202.7h1v1h-1zM53.2 202.3h1v1h-1zM54.0 202.5h1v1h-1zM54.8 202.7h1v1h-1zM55.2 202.5h1v1h-1zM56.1 202.6h1v1h-1zM56.8 202.5h1v1h-1zM57.5 202.7h1v1h-1zM58.1 202.7h1v1h-1zM59.7 202.6h1v1h-1zM51.3 203.3h1v1h-1zM51.9 203.1h1v1h-1zM52.5 203.0h1v1h-1zM53.2 203.3h1v1h-1zM54.0 203.4h1v1h-1zM54.8 203.0h1v1h-1zM55.2 203.3h1v1h-1zM55.9 203.1h1v1h-1zM56.8 203.0h1v1h-1zM57.4 203.4h1v1h-1zM58.2 203.1h1v1h-1zM51.4 203.8h1v1h-1zM52.0 203.8h1v1h-1zM52.6 203.9h1v1h-1zM53.5 203.8h1v1h-1zM54.0 203.7h1v1h-1zM54.9 203.8h1v1h-1zM55.5 203.7h1v1h-1zM55.9 203.8h1v1h-1zM56.6 203.8h1v1h-1zM57.5 203.7h1v1h-1zM58.1 203.7h1v1h-1zM58.7 203.9h1v1h-1zM59.8 203.9h1v1h-1zM51.2 204.8h1v1h-1zM51.7 204.7h1v1h-1zM52.7 204.5h1v1h-1zM53.1 204.6h1v1h-1zM54.0 204.5h1v1h-1zM54.8 204.4h1v1h-1zM55.4 204.5h1v1h-1zM56.1 204.6h1v1h-1zM56.7 204.6h1v1h-1zM58.4 204.8h1v1h-1zM51.0 205.5h1v1h-1zM51.8 205.4h1v1h-1zM52.6 205.4h1v1h-1zM53.4 205.1h1v1h-1zM54.1 205.4h1v1h-1zM54.5 205.5h1v1h-1zM55.4 205.2h1v1h-1zM56.2 205.4h1v1h-1zM56.8 205.3h1v1h-1zM57.7 205.5h1v1h-1zM51.3 206.0h1v1h-1zM51.8 206.1h1v1h-1zM52.8 206.1h1v1h-1zM53.1 206.0h1v1h-1zM53.9 205.8h1v1h-1zM54.8 205.9h1v1h-1zM55.3 206.2h1v1h-1zM56.0 205.9h1v1h-1zM56.8 205.9h1v1h-1zM57.7 205.9h1v1h-1zM58.4 205.9h1v1h-1zM58.7 205.8h1v1h-1zM51.0 206.9h1v1h-1zM52.0 206.9h1v1h-1zM52.6 206.9h1v1h-1zM53.3 206.6h1v1h-1zM53.8 206.8h1v1h-1zM54.8 206.8h1v1h-1zM55.6 206.9h1v1h-1zM56.0 206.9h1v1h-1zM56.6 206.6h1v1h-1zM57.7 206.8h1v1h-1zM58.4 206.8h1v1h-1zM58.9 206.8h1v1h-1zM60.4 206.9h1v1h-1zM51.4 207.6h1v1h-1zM52.0 207.5h1v1h-1zM52.8 207.2h1v1h-1zM53.3 207.2h1v1h-1zM54.0 207.6h1v1h-1zM54.9 207.5h1v1h-1zM55.3 207.3h1v1h-1zM56.0 207.5h1v1h-1zM56.7 207.5h1v1h-1zM58.1 207.2h1v1h-1zM58.7 207.4h1v1h-1zM51.3 207.9h1v1h-1zM51.8 208.1h1v1h-1zM52.4 208.2h1v1h-1zM53.3 207.9h1v1h-1zM54.2 208.3h1v1h-1zM54.5 208.3h1v1h-1zM55.3 208.3h1v1h-1zM56.3 208.0h1v1h-1zM56.7 208.0h1v1h-1zM58.9 208.3h1v1h-1zM51.3 208.8h1v1h-1zM51.9 208.9h1v1h-1zM52.4 208.7h1v1h-1zM53.1 208.9h1v1h-1zM54.1 209.0h1v1h-1zM54.6 208.7h1v1h-1zM55.4 208.9h1v1h-1zM56.1 209.0h1v1h-1zM57.0 208.7h1v1h-1zM57.4 208.7h1v1h-1zM58.9 208.9h1v1h-1zM60.2 208.8h1v1h-1zM51.1 209.3h1v1h-1zM51.8 209.6h1v1h-1zM52.4 209.7h1v1h-1zM53.1 209.7h1v1h-1zM53.9 209.7h1v1h-1zM54.6 209.3h1v1h-1zM55.6 209.3h1v1h-1zM56.2 209.6h1v1h-1zM58.4 209.7h1v1h-1zM51.4 210.1h1v1h-1zM52.0 210.0h1v1h-1zM52.7 210.1h1v1h-1zM53.2 210.3h1v1h-1zM54.2 210.0h1v1h-1zM54.6 210.4h1v1h-1zM55.2 210.3h1v1h-1zM56.2 210.0h1v1h-1zM56.9 210.4h1v1h-1zM57.5 210.0h1v1h-1zM51.3 210.8h1v1h-1zM51.8 211.1h1v1h-1zM52.6 210.8h1v1h-1zM53.5 210.9h1v1h-1zM54.2 210.8h1v1h-1zM54.5 210.9h1v1h-1zM55.2 210.9h1v1h-1zM56.7 211.1h1v1h-1zM51.4 211.8h1v1h-1zM51.9 211.8h1v1h-1zM52.8 211.7h1v1h-1zM53.3 211.8h1v1h-1zM54.2 211.8h1v1h-1zM54.9 211.5h1v1h-1zM55.4 211.6h1v1h-1zM56.3 211.7h1v1h-1zM57.0 211.5h1v1h-1zM51.4 212.3h1v1h-1zM51.9 212.1h1v1h-1zM52.6 212.3h1v1h-1zM53.2 212.2h1v1h-1zM54.0 212.5h1v1h-1zM54.6 212.1h1v1h-1zM55.3 212.4h1v1h-1zM56.9 212.3h1v1h-1zM58.7 212.4h1v1h-1zM51.0 213.0h1v1h-1zM52.0 213.1h1v1h-1zM52.6 212.9h1v1h-1zM53.1 213.2h1v1h-1zM54.1 212.9h1v1h-1zM54.7 213.1h1v1h-1zM55.4 212.8h1v1h-1zM51.1 213.8h1v1h-1zM52.0 213.6h1v1h-1zM52.6 213.9h1v1h-1zM54.2 213.5h1v1h-1zM54.5 213.7h1v1h-1zM55.5 213.6h1v1h-1zM56.2 213.7h1v1h-1zM58.3 213.6h1v1h-1zM59.5 213.8h1v1h-1zM60.7 208.1h1v1h-1zM59.4 204.3h1v1h-1zM60.5 204.8h1v1h-1zM60.7 209.8h1v1h-1zM60.2 207.8h1v1h-1zM60.7 201.8h1v1h-1zM62.1 210.1h1v1h-1zM59.7 203.6h1v1h-1zM59.9 207.0h1v1h-1zM59.7 212.5h1v1h-1z" fill="#080808"/>
<path d="M31.2 184.3h.8v.8h-.8zM38.8 188.6h.8v.8h-.8zM32.6 184.8h.8v.8h-.8zM35.6 190.0h.8v.8h-.8zM35.6 181.9h.8v.8h-.8zM37.0 184.5h.8v.8h-.8zM32.5 187.5h.8v.8h-.8zM29.6 194.7h.8v.8h-.8zM29.6 184.3h.8v.8h-.8zM34.7 192.6h.8v.8h-.8zM29.3 177.3h.8v.8h-.8zM30.2 178.7h.8v.8h-.8zM30.3 180.9h.8v.8h-.8zM35.9 191.5h.8v.8h-.8zM35.9 187.8h.8v.8h-.8zM36.6 178.0h.8v.8h-.8zM33.7 188.7h.8v.8h-.8zM30.8 185.3h.8v.8h-.8zM33.9 184.9h.8v.8h-.8zM32.8 180.8h.8v.8h-.8zM35.6 181.6h.8v.8h-.8zM34.9 177.2h.8v.8h-.8zM31.3 191.8h.8v.8h-.8zM36.1 193.6h.8v.8h-.8zM37.1 180.2h.8v.8h-.8zM31.9 181.0h.8v.8h-.8zM36.8 189.6h.8v.8h-.8zM33.6 187.4h.8v.8h-.8zM36.8 184.8h.8v.8h-.8zM34.2 182.3h.8v.8h-.8zM31.2 192.0h.8v.8h-.8zM39.5 193.7h.8v.8h-.8zM37.0 194.5h.8v.8h-.8zM34.7 192.6h.8v.8h-.8zM29.9 193.6h.8v.8h-.8zM36.8 195.1h.8v.8h-.8zM59.9 176.1h.8v.8h-.8zM45.5 177.5h.8v.8h-.8zM51.7 181.7h.8v.8h-.8zM47.0 188.2h.8v.8h-.8zM57.9 183.2h.8v.8h-.8z" fill="#2a2a2a"/>
<rect x="26.70" y="127.80" width="86.70" height="86.50" fill="none" stroke="#0a0a0a" stroke-width="1"/>
<line x1="41.90" y1="127.80" x2="41.90" y2="199.10" stroke="#080808" stroke-width="1.0"/>
<line x1="26.70" y1="199.10" x2="113.40" y2="199.10" stroke="#080808" stroke-width="1.0"/>
<text x="27.90" y="134.20" font-size="5.6" text-anchor="start" font-weight="normal" font-style="normal" fill="#222" >1.1%</text>
<path d="M26.70 214.30v2.5M26.70 214.30h-2.5M33.22 214.30v1.2M26.70 207.78h-1.2M37.03 214.30v1.2M26.70 203.97h-1.2M39.73 214.30v1.2M26.70 201.27h-1.2M41.83 214.30v1.2M26.70 199.17h-1.2M43.55 214.30v1.2M26.70 197.45h-1.2M45.00 214.30v1.2M26.70 196.00h-1.2M46.25 214.30v1.2M26.70 194.75h-1.2M47.36 214.30v1.2M26.70 193.64h-1.2M48.35 214.30v2.5M26.70 192.65h-2.5M54.87 214.30v1.2M26.70 186.13h-1.2M58.68 214.30v1.2M26.70 182.32h-1.2M61.38 214.30v1.2M26.70 179.62h-1.2M63.48 214.30v1.2M26.70 177.52h-1.2M65.20 214.30v1.2M26.70 175.80h-1.2M66.65 214.30v1.2M26.70 174.35h-1.2M67.90 214.30v1.2M26.70 173.10h-1.2M69.01 214.30v1.2M26.70 171.99h-1.2M70.00 214.30v2.5M26.70 171.00h-2.5M76.52 214.30v1.2M26.70 164.48h-1.2M80.33 214.30v1.2M26.70 160.67h-1.2M83.03 214.30v1.2M26.70 157.97h-1.2M85.13 214.30v1.2M26.70 155.87h-1.2M86.85 214.30v1.2M26.70 154.15h-1.2M88.30 214.30v1.2M26.70 152.70h-1.2M89.55 214.30v1.2M26.70 151.45h-1.2M90.66 214.30v1.2M26.70 150.34h-1.2M91.65 214.30v2.5M26.70 149.35h-2.5M98.17 214.30v1.2M26.70 142.83h-1.2M101.98 214.30v1.2M26.70 139.02h-1.2M104.68 214.30v1.2M26.70 136.32h-1.2M106.78 214.30v1.2M26.70 134.22h-1.2M108.50 214.30v1.2M26.70 132.50h-1.2M109.95 214.30v1.2M26.70 131.05h-1.2M111.20 214.30v1.2M26.70 129.80h-1.2M112.31 214.30v1.2M26.70 128.69h-1.2" stroke="#111" stroke-width="0.7" fill="none"/>
<text x="23.30" y="224.10" font-size="5.9" fill="#1a1a1a">10<tspan font-size="3.7" dy="-2.2">0</tspan></text>
<text x="14.70" y="216.90" font-size="5.9" fill="#1a1a1a">10<tspan font-size="3.7" dy="-2.2">0</tspan></text>
<text x="44.95" y="224.10" font-size="5.9" fill="#1a1a1a">10<tspan font-size="3.7" dy="-2.2">1</tspan></text>
<text x="14.70" y="195.25" font-size="5.9" fill="#1a1a1a">10<tspan font-size="3.7" dy="-2.2">1</tspan></text>
<text x="66.60" y="224.10" font-size="5.9" fill="#1a1a1a">10<tspan font-size="3.7" dy="-2.2">2</tspan></text>
<text x="14.70" y="173.60" font-size="5.9" fill="#1a1a1a">10<tspan font-size="3.7" dy="-2.2">2</tspan></text>
<text x="88.25" y="224.10" font-size="5.9" fill="#1a1a1a">10<tspan font-size="3.7" dy="-2.2">3</tspan></text>
<text x="14.70" y="151.95" font-size="5.9" fill="#1a1a1a">10<tspan font-size="3.7" dy="-2.2">3</tspan></text>
<text x="175.00" y="123.40" font-size="8.5" text-anchor="middle" font-weight="normal" font-style="normal" fill="#111" >Poor responders</text>
<rect x="133.60" y="199.60" width="29.50" height="14.70" fill="#080808"/>
<path d="M140.4 196.9h1v1h-1zM147.1 196.9h1v1h-1zM158.9 196.9h1v1h-1zM134.9 197.9h1v1h-1zM136.5 197.8h1v1h-1zM137.9 197.6h1v1h-1zM138.3 197.7h1v1h-1zM139.1 197.7h1v1h-1zM141.9 197.9h1v1h-1zM146.8 197.5h1v1h-1zM150.5 197.8h1v1h-1zM153.3 197.8h1v1h-1zM155.5 197.7h1v1h-1zM167.7 197.9h1v1h-1zM168.8 197.7h1v1h-1zM135.5 198.3h1v1h-1zM137.1 198.5h1v1h-1zM137.8 198.6h1v1h-1zM139.2 198.3h1v1h-1zM142.1 198.4h1v1h-1zM143.6 198.5h1v1h-1zM144.1 198.6h1v1h-1zM145.0 198.2h1v1h-1zM147.1 198.2h1v1h-1zM147.7 198.6h1v1h-1zM148.5 198.5h1v1h-1zM148.8 198.2h1v1h-1zM149.6 198.3h1v1h-1zM150.2 198.6h1v1h-1zM151.8 198.3h1v1h-1zM153.4 198.6h1v1h-1zM155.1 198.3h1v1h-1zM156.0 198.6h1v1h-1zM158.0 198.2h1v1h-1zM158.6 198.4h1v1h-1zM159.6 198.4h1v1h-1zM160.1 198.5h1v1h-1zM162.3 198.3h1v1h-1zM163.0 198.5h1v1h-1zM163.9 198.6h1v1h-1zM165.6 198.3h1v1h-1zM167.7 198.3h1v1h-1zM133.4 199.1h1v1h-1zM134.5 199.3h1v1h-1zM134.9 199.3h1v1h-1zM135.9 199.0h1v1h-1zM136.6 199.0h1v1h-1zM137.0 199.1h1v1h-1zM140.1 198.9h1v1h-1zM140.8 199.0h1v1h-1zM141.3 199.0h1v1h-1zM142.1 198.9h1v1h-1zM143.5 199.0h1v1h-1zM143.9 199.3h1v1h-1zM144.8 199.2h1v1h-1zM146.8 199.1h1v1h-1zM148.4 199.3h1v1h-1zM149.0 199.3h1v1h-1zM149.9 198.9h1v1h-1zM150.4 198.9h1v1h-1zM151.6 199.1h1v1h-1zM152.5 198.9h1v1h-1zM153.3 198.9h1v1h-1zM154.1 199.3h1v1h-1zM155.1 199.2h1v1h-1zM155.9 198.9h1v1h-1zM156.6 199.1h1v1h-1zM157.9 199.2h1v1h-1zM158.7 199.1h1v1h-1zM160.1 199.1h1v1h-1zM160.9 199.2h1v1h-1zM161.7 198.9h1v1h-1zM162.4 199.1h1v1h-1zM163.8 199.2h1v1h-1zM164.2 199.2h1v1h-1zM165.1 199.1h1v1h-1zM165.9 199.1h1v1h-1zM166.5 199.1h1v1h-1zM133.8 199.7h1v1h-1zM134.5 199.6h1v1h-1zM135.0 199.9h1v1h-1zM135.9 199.9h1v1h-1zM136.2 199.6h1v1h-1zM136.9 199.8h1v1h-1zM137.7 200.0h1v1h-1zM138.7 199.7h1v1h-1zM139.2 199.7h1v1h-1zM139.7 199.7h1v1h-1zM140.8 199.8h1v1h-1zM141.2 199.9h1v1h-1zM141.8 199.9h1v1h-1zM142.7 199.8h1v1h-1zM143.6 200.0h1v1h-1zM144.2 199.9h1v1h-1zM144.6 200.0h1v1h-1zM145.6 199.7h1v1h-1zM146.4 199.8h1v1h-1zM146.8 199.7h1v1h-1zM147.8 200.0h1v1h-1zM148.1 199.8h1v1h-1zM149.1 200.0h1v1h-1zM149.8 199.6h1v1h-1zM150.2 200.0h1v1h-1zM151.1 199.7h1v1h-1zM151.6 199.7h1v1h-1zM152.7 199.8h1v1h-1zM153.4 199.8h1v1h-1zM154.8 200.0h1v1h-1zM155.4 199.7h1v1h-1zM155.9 200.0h1v1h-1zM156.7 199.6h1v1h-1zM158.2 199.8h1v1h-1zM158.7 199.8h1v1h-1zM159.6 200.0h1v1h-1zM160.4 199.9h1v1h-1zM160.9 199.8h1v1h-1zM161.4 199.7h1v1h-1zM162.1 199.9h1v1h-1zM163.1 199.7h1v1h-1zM163.9 199.9h1v1h-1zM164.4 199.7h1v1h-1zM164.9 200.0h1v1h-1zM166.0 199.6h1v1h-1zM166.5 199.6h1v1h-1zM167.2 199.8h1v1h-1zM172.3 199.9h1v1h-1zM161.6 200.3h1v1h-1zM162.2 200.4h1v1h-1zM162.9 200.4h1v1h-1zM163.7 200.4h1v1h-1zM164.2 200.7h1v1h-1zM165.1 200.3h1v1h-1zM166.0 200.5h1v1h-1zM166.7 200.7h1v1h-1zM167.2 200.5h1v1h-1zM167.8 200.6h1v1h-1zM172.3 200.7h1v1h-1zM161.8 201.4h1v1h-1zM162.2 201.4h1v1h-1zM163.0 201.3h1v1h-1zM163.6 201.0h1v1h-1zM164.2 201.0h1v1h-1zM165.2 201.3h1v1h-1zM166.0 201.3h1v1h-1zM166.5 201.0h1v1h-1zM167.0 201.0h1v1h-1zM168.1 201.3h1v1h-1zM168.5 201.2h1v1h-1zM169.8 201.2h1v1h-1zM161.6 201.9h1v1h-1zM162.5 202.0h1v1h-1zM163.1 202.0h1v1h-1zM163.9 202.0h1v1h-1zM164.4 201.9h1v1h-1zM165.2 201.8h1v1h-1zM165.8 201.9h1v1h-1zM166.6 202.1h1v1h-1zM167.8 202.0h1v1h-1zM168.8 201.9h1v1h-1zM169.1 201.9h1v1h-1zM161.5 202.4h1v1h-1zM162.3 202.8h1v1h-1zM162.9 202.5h1v1h-1zM163.7 202.7h1v1h-1zM164.2 202.5h1v1h-1zM165.0 202.5h1v1h-1zM165.8 202.6h1v1h-1zM166.6 202.6h1v1h-1zM167.1 202.4h1v1h-1zM168.6 202.4h1v1h-1zM170.1 202.5h1v1h-1zM161.5 203.4h1v1h-1zM162.3 203.4h1v1h-1zM163.1 203.1h1v1h-1zM163.6 203.5h1v1h-1zM164.6 203.3h1v1h-1zM164.9 203.3h1v1h-1zM165.6 203.5h1v1h-1zM166.7 203.1h1v1h-1zM167.2 203.1h1v1h-1zM168.1 203.4h1v1h-1zM168.7 203.5h1v1h-1zM170.9 203.1h1v1h-1zM161.6 203.9h1v1h-1zM162.5 204.2h1v1h-1zM162.8 203.9h1v1h-1zM163.6 204.1h1v1h-1zM164.2 204.0h1v1h-1zM165.3 204.0h1v1h-1zM165.8 204.0h1v1h-1zM166.3 203.9h1v1h-1zM168.0 203.8h1v1h-1zM168.6 204.2h1v1h-1zM169.5 203.9h1v1h-1zM169.8 203.8h1v1h-1zM161.6 204.6h1v1h-1zM162.4 204.5h1v1h-1zM162.8 204.6h1v1h-1zM163.9 204.9h1v1h-1zM164.2 204.8h1v1h-1zM165.1 204.9h1v1h-1zM165.6 204.6h1v1h-1zM166.6 204.8h1v1h-1zM167.0 204.5h1v1h-1zM168.5 204.9h1v1h-1zM169.4 204.9h1v1h-1zM171.5 204.8h1v1h-1zM161.5 205.5h1v1h-1zM162.2 205.6h1v1h-1zM162.9 205.4h1v1h-1zM163.6 205.4h1v1h-1zM164.6 205.5h1v1h-1zM165.1 205.3h1v1h-1zM165.9 205.2h1v1h-1zM166.4 205.4h1v1h-1zM167.2 205.5h1v1h-1zM167.8 205.4h1v1h-1zM168.5 205.5h1v1h-1zM169.2 205.3h1v1h-1zM161.6 206.2h1v1h-1zM162.2 206.2h1v1h-1zM163.0 205.9h1v1h-1zM163.6 205.9h1v1h-1zM164.4 206.3h1v1h-1zM165.3 206.1h1v1h-1zM165.7 206.1h1v1h-1zM166.5 205.9h1v1h-1zM167.0 206.2h1v1h-1zM167.9 206.3h1v1h-1zM168.4 205.9h1v1h-1zM172.1 206.3h1v1h-1zM161.7 207.0h1v1h-1zM162.4 207.0h1v1h-1zM163.0 207.0h1v1h-1zM163.5 207.0h1v1h-1zM164.2 206.6h1v1h-1zM165.3 206.9h1v1h-1zM165.6 206.8h1v1h-1zM166.4 206.6h1v1h-1zM167.0 206.9h1v1h-1zM168.1 206.9h1v1h-1zM168.8 206.8h1v1h-1zM170.8 206.6h1v1h-1zM161.5 207.5h1v1h-1zM162.2 207.3h1v1h-1zM163.1 207.3h1v1h-1zM163.9 207.4h1v1h-1zM164.3 207.3h1v1h-1zM165.3 207.6h1v1h-1zM165.9 207.6h1v1h-1zM166.6 207.5h1v1h-1zM167.3 207.3h1v1h-1zM168.1 207.5h1v1h-1zM168.7 207.5h1v1h-1zM169.3 207.3h1v1h-1zM170.9 207.7h1v1h-1zM161.5 208.4h1v1h-1zM162.4 208.4h1v1h-1zM163.0 208.1h1v1h-1zM163.9 208.3h1v1h-1zM164.4 208.4h1v1h-1zM165.0 208.3h1v1h-1zM165.8 208.1h1v1h-1zM166.6 208.1h1v1h-1zM169.3 208.0h1v1h-1zM170.7 208.4h1v1h-1zM161.8 209.0h1v1h-1zM162.3 209.0h1v1h-1zM163.2 209.1h1v1h-1zM163.5 209.0h1v1h-1zM164.5 208.7h1v1h-1zM165.3 208.8h1v1h-1zM166.0 208.7h1v1h-1zM166.3 208.9h1v1h-1zM167.0 209.0h1v1h-1zM161.8 209.7h1v1h-1zM162.5 209.4h1v1h-1zM162.9 209.4h1v1h-1zM163.6 209.5h1v1h-1zM164.4 209.7h1v1h-1zM165.1 209.8h1v1h-1zM165.8 209.6h1v1h-1zM166.3 209.6h1v1h-1zM167.2 209.4h1v1h-1zM168.8 209.4h1v1h-1zM161.4 210.1h1v1h-1zM162.2 210.4h1v1h-1zM163.1 210.2h1v1h-1zM163.6 210.3h1v1h-1zM164.4 210.2h1v1h-1zM165.1 210.4h1v1h-1zM165.8 210.3h1v1h-1zM166.6 210.3h1v1h-1zM167.0 210.1h1v1h-1zM167.7 210.4h1v1h-1zM168.8 210.2h1v1h-1zM161.6 210.8h1v1h-1zM162.5 210.9h1v1h-1zM162.8 211.1h1v1h-1zM163.6 210.9h1v1h-1zM164.3 210.9h1v1h-1zM165.2 211.0h1v1h-1zM169.1 211.2h1v1h-1zM161.6 211.9h1v1h-1zM162.3 211.6h1v1h-1zM162.9 211.8h1v1h-1zM163.6 211.5h1v1h-1zM164.4 211.9h1v1h-1zM164.9 211.6h1v1h-1zM165.7 211.8h1v1h-1zM166.3 211.8h1v1h-1zM167.0 211.7h1v1h-1zM161.5 212.5h1v1h-1zM162.2 212.2h1v1h-1zM162.8 212.4h1v1h-1zM163.5 212.2h1v1h-1zM164.5 212.6h1v1h-1zM165.1 212.2h1v1h-1zM166.7 212.2h1v1h-1zM161.7 213.0h1v1h-1zM162.5 213.2h1v1h-1zM162.9 213.3h1v1h-1zM163.9 213.0h1v1h-1zM164.5 213.3h1v1h-1zM165.1 213.0h1v1h-1zM165.9 213.1h1v1h-1zM167.0 213.1h1v1h-1zM168.1 212.9h1v1h-1zM161.6 213.9h1v1h-1zM162.4 214.0h1v1h-1zM163.0 213.7h1v1h-1zM163.5 213.8h1v1h-1zM164.6 213.6h1v1h-1zM165.3 213.8h1v1h-1zM165.6 213.7h1v1h-1zM166.6 213.8h1v1h-1zM167.4 213.7h1v1h-1zM170.3 201.9h1v1h-1zM170.8 201.2h1v1h-1zM171.5 199.6h1v1h-1zM172.0 202.9h1v1h-1zM171.3 203.4h1v1h-1zM170.2 211.9h1v1h-1zM171.5 207.5h1v1h-1zM170.6 200.6h1v1h-1zM173.0 200.3h1v1h-1zM170.5 206.8h1v1h-1z" fill="#080808"/>
<path d="M138.9 188.9h.8v.8h-.8zM140.8 178.2h.8v.8h-.8zM142.3 187.6h.8v.8h-.8zM138.2 179.4h.8v.8h-.8zM145.4 184.9h.8v.8h-.8zM139.9 191.0h.8v.8h-.8zM143.4 178.6h.8v.8h-.8zM146.1 185.1h.8v.8h-.8zM145.2 180.9h.8v.8h-.8zM140.0 185.3h.8v.8h-.8zM137.7 176.1h.8v.8h-.8zM145.1 194.7h.8v.8h-.8zM137.9 180.1h.8v.8h-.8zM143.5 185.9h.8v.8h-.8zM141.7 185.1h.8v.8h-.8zM144.0 186.3h.8v.8h-.8zM139.9 171.0h.8v.8h-.8zM145.5 191.9h.8v.8h-.8zM145.8 180.6h.8v.8h-.8zM140.6 177.9h.8v.8h-.8zM142.6 171.5h.8v.8h-.8zM140.2 179.4h.8v.8h-.8zM142.2 193.6h.8v.8h-.8zM145.9 191.5h.8v.8h-.8zM144.0 186.0h.8v.8h-.8zM146.9 191.2h.8v.8h-.8zM141.0 181.2h.8v.8h-.8zM141.3 181.9h.8v.8h-.8zM141.3 169.3h.8v.8h-.8zM138.2 177.9h.8v.8h-.8zM139.9 179.2h.8v.8h-.8zM137.9 190.8h.8v.8h-.8zM145.5 189.8h.8v.8h-.8zM145.3 179.0h.8v.8h-.8zM144.3 191.6h.8v.8h-.8zM137.2 172.6h.8v.8h-.8zM142.5 185.6h.8v.8h-.8zM140.2 176.5h.8v.8h-.8zM137.3 187.0h.8v.8h-.8zM143.8 173.9h.8v.8h-.8zM138.8 193.7h.8v.8h-.8zM144.9 181.9h.8v.8h-.8zM146.9 181.6h.8v.8h-.8zM139.6 191.9h.8v.8h-.8zM143.2 178.5h.8v.8h-.8zM145.5 189.6h.8v.8h-.8zM142.5 171.7h.8v.8h-.8zM135.5 185.5h.8v.8h-.8zM141.2 181.0h.8v.8h-.8zM140.0 174.6h.8v.8h-.8zM140.3 175.4h.8v.8h-.8zM144.6 181.0h.8v.8h-.8zM141.4 182.6h.8v.8h-.8zM145.1 192.1h.8v.8h-.8zM135.8 191.9h.8v.8h-.8zM145.1 179.0h.8v.8h-.8zM143.7 181.0h.8v.8h-.8zM139.4 178.2h.8v.8h-.8zM140.3 185.3h.8v.8h-.8zM139.6 182.9h.8v.8h-.8zM141.8 186.6h.8v.8h-.8zM140.8 188.2h.8v.8h-.8zM143.0 170.1h.8v.8h-.8zM141.9 189.0h.8v.8h-.8zM135.7 177.4h.8v.8h-.8zM143.9 188.0h.8v.8h-.8zM145.3 193.3h.8v.8h-.8zM140.9 186.4h.8v.8h-.8zM143.0 183.6h.8v.8h-.8zM140.1 176.0h.8v.8h-.8zM139.4 185.6h.8v.8h-.8zM144.4 182.0h.8v.8h-.8zM137.4 186.6h.8v.8h-.8zM139.3 182.9h.8v.8h-.8zM147.3 189.5h.8v.8h-.8zM139.2 176.1h.8v.8h-.8zM142.3 186.1h.8v.8h-.8zM138.3 179.0h.8v.8h-.8zM142.2 179.0h.8v.8h-.8zM138.4 194.7h.8v.8h-.8zM142.1 175.1h.8v.8h-.8zM140.6 179.9h.8v.8h-.8zM140.3 183.5h.8v.8h-.8zM135.3 186.2h.8v.8h-.8zM143.9 176.6h.8v.8h-.8zM147.0 178.2h.8v.8h-.8zM140.2 183.6h.8v.8h-.8zM144.7 193.0h.8v.8h-.8zM135.3 169.7h.8v.8h-.8zM144.7 177.1h.8v.8h-.8zM141.7 183.4h.8v.8h-.8zM143.8 169.2h.8v.8h-.8zM135.2 192.1h.8v.8h-.8zM142.9 181.7h.8v.8h-.8zM140.8 176.7h.8v.8h-.8zM144.4 182.7h.8v.8h-.8zM136.6 181.5h.8v.8h-.8zM135.8 176.2h.8v.8h-.8zM143.9 178.5h.8v.8h-.8zM140.6 195.3h.8v.8h-.8zM138.5 181.2h.8v.8h-.8zM141.8 185.9h.8v.8h-.8zM143.2 181.9h.8v.8h-.8zM135.0 186.3h.8v.8h-.8zM138.2 171.1h.8v.8h-.8zM143.3 170.3h.8v.8h-.8zM137.4 176.9h.8v.8h-.8zM139.5 176.9h.8v.8h-.8zM142.2 183.0h.8v.8h-.8zM143.2 179.9h.8v.8h-.8zM140.1 189.1h.8v.8h-.8zM136.9 185.0h.8v.8h-.8zM140.5 179.8h.8v.8h-.8zM144.9 170.8h.8v.8h-.8zM139.7 172.5h.8v.8h-.8zM145.2 193.5h.8v.8h-.8zM147.8 197.4h.8v.8h-.8zM138.8 194.6h.8v.8h-.8zM142.4 193.8h.8v.8h-.8zM145.5 196.0h.8v.8h-.8zM145.5 192.1h.8v.8h-.8zM141.3 194.6h.8v.8h-.8zM142.3 190.1h.8v.8h-.8zM145.4 193.8h.8v.8h-.8zM136.6 197.3h.8v.8h-.8zM142.0 196.3h.8v.8h-.8zM144.5 195.3h.8v.8h-.8zM146.8 190.5h.8v.8h-.8zM138.9 191.4h.8v.8h-.8zM143.1 191.9h.8v.8h-.8zM134.8 191.2h.8v.8h-.8zM136.8 194.6h.8v.8h-.8zM140.6 193.9h.8v.8h-.8zM134.6 194.5h.8v.8h-.8zM137.8 190.8h.8v.8h-.8zM135.2 191.3h.8v.8h-.8zM139.9 191.4h.8v.8h-.8zM140.7 191.4h.8v.8h-.8zM151.8 178.4h.8v.8h-.8zM166.6 171.1h.8v.8h-.8zM153.6 187.8h.8v.8h-.8zM151.0 190.9h.8v.8h-.8zM167.1 173.3h.8v.8h-.8zM152.1 189.9h.8v.8h-.8z" fill="#2a2a2a"/>
<rect x="133.60" y="127.80" width="86.70" height="86.50" fill="none" stroke="#0a0a0a" stroke-width="1"/>
<line x1="148.80" y1="127.80" x2="148.80" y2="199.00" stroke="#080808" stroke-width="1.0"/>
<line x1="133.60" y1="199.00" x2="220.30" y2="199.00" stroke="#080808" stroke-width="1.0"/>
<text x="134.80" y="134.20" font-size="5.6" text-anchor="start" font-weight="normal" font-style="normal" fill="#222" >2.0%</text>
<path d="M133.60 214.30v2.5M133.60 214.30h-2.5M140.12 214.30v1.2M133.60 207.78h-1.2M143.93 214.30v1.2M133.60 203.97h-1.2M146.63 214.30v1.2M133.60 201.27h-1.2M148.73 214.30v1.2M133.60 199.17h-1.2M150.45 214.30v1.2M133.60 197.45h-1.2M151.90 214.30v1.2M133.60 196.00h-1.2M153.15 214.30v1.2M133.60 194.75h-1.2M154.26 214.30v1.2M133.60 193.64h-1.2M155.25 214.30v2.5M133.60 192.65h-2.5M161.77 214.30v1.2M133.60 186.13h-1.2M165.58 214.30v1.2M133.60 182.32h-1.2M168.28 214.30v1.2M133.60 179.62h-1.2M170.38 214.30v1.2M133.60 177.52h-1.2M172.10 214.30v1.2M133.60 175.80h-1.2M173.55 214.30v1.2M133.60 174.35h-1.2M174.80 214.30v1.2M133.60 173.10h-1.2M175.91 214.30v1.2M133.60 171.99h-1.2M176.90 214.30v2.5M133.60 171.00h-2.5M183.42 214.30v1.2M133.60 164.48h-1.2M187.23 214.30v1.2M133.60 160.67h-1.2M189.93 214.30v1.2M133.60 157.97h-1.2M192.03 214.30v1.2M133.60 155.87h-1.2M193.75 214.30v1.2M133.60 154.15h-1.2M195.20 214.30v1.2M133.60 152.70h-1.2M196.45 214.30v1.2M133.60 151.45h-1.2M197.56 214.30v1.2M133.60 150.34h-1.2M198.55 214.30v2.5M133.60 149.35h-2.5M205.07 214.30v1.2M133.60 142.83h-1.2M208.88 214.30v1.2M133.60 139.02h-1.2M211.58 214.30v1.2M133.60 136.32h-1.2M213.68 214.30v1.2M133.60 134.22h-1.2M215.40 214.30v1.2M133.60 132.50h-1.2M216.85 214.30v1.2M133.60 131.05h-1.2M218.10 214.30v1.2M133.60 129.80h-1.2M219.21 214.30v1.2M133.60 128.69h-1.2" stroke="#111" stroke-width="0.7" fill="none"/>
<text x="130.20" y="224.10" font-size="5.9" fill="#1a1a1a">10<tspan font-size="3.7" dy="-2.2">0</tspan></text>
<text x="121.60" y="216.90" font-size="5.9" fill="#1a1a1a">10<tspan font-size="3.7" dy="-2.2">0</tspan></text>
<text x="151.85" y="224.10" font-size="5.9" fill="#1a1a1a">10<tspan font-size="3.7" dy="-2.2">1</tspan></text>
<text x="121.60" y="195.25" font-size="5.9" fill="#1a1a1a">10<tspan font-size="3.7" dy="-2.2">1</tspan></text>
<text x="173.50" y="224.10" font-size="5.9" fill="#1a1a1a">10<tspan font-size="3.7" dy="-2.2">2</tspan></text>
<text x="121.60" y="173.60" font-size="5.9" fill="#1a1a1a">10<tspan font-size="3.7" dy="-2.2">2</tspan></text>
<text x="195.15" y="224.10" font-size="5.9" fill="#1a1a1a">10<tspan font-size="3.7" dy="-2.2">3</tspan></text>
<text x="121.60" y="151.95" font-size="5.9" fill="#1a1a1a">10<tspan font-size="3.7" dy="-2.2">3</tspan></text>
<text x="2.20" y="10.70" font-size="10.8" text-anchor="start" font-weight="bold" font-style="normal" fill="#000" >A</text>
<line x1="6.60" y1="15.00" x2="6.60" y2="104.30" stroke="#555" stroke-width="0.7"/>
<line x1="6.60" y1="127.50" x2="6.60" y2="213.50" stroke="#555" stroke-width="0.7"/>
<text transform="translate(9.50,115.60) rotate(-90)" font-size="8.2" text-anchor="middle" fill="#111">IL-17</text>
<line x1="27.50" y1="230.80" x2="112.50" y2="230.80" stroke="#555" stroke-width="0.7"/>
<line x1="134.00" y1="230.80" x2="219.50" y2="230.80" stroke="#555" stroke-width="0.7"/>
<text x="123.30" y="234.20" font-size="8.2" text-anchor="middle" font-weight="normal" font-style="normal" fill="#111" >CD8</text>
<text x="2.20" y="255.60" font-size="10.8" text-anchor="start" font-weight="bold" font-style="normal" fill="#000" >B</text>
<line x1="29.50" y1="258.70" x2="29.50" y2="369.65" stroke="#111" stroke-width="0.95"/>
<line x1="29.05" y1="369.20" x2="229.70" y2="369.20" stroke="#111" stroke-width="0.95"/>
<line x1="26.00" y1="369.20" x2="29.50" y2="369.20" stroke="#111" stroke-width="0.85"/>
<text x="25.20" y="372.40" font-size="9" text-anchor="end" font-weight="normal" font-style="normal" fill="#111" >0</text>
<line x1="26.00" y1="338.00" x2="29.50" y2="338.00" stroke="#111" stroke-width="0.85"/>
<text x="25.20" y="341.20" font-size="9" text-anchor="end" font-weight="normal" font-style="normal" fill="#111" >2</text>
<line x1="26.00" y1="306.80" x2="29.50" y2="306.80" stroke="#111" stroke-width="0.85"/>
<text x="25.20" y="310.00" font-size="9" text-anchor="end" font-weight="normal" font-style="normal" fill="#111" >4</text>
<line x1="26.00" y1="275.60" x2="29.50" y2="275.60" stroke="#111" stroke-width="0.85"/>
<text x="25.20" y="278.80" font-size="9" text-anchor="end" font-weight="normal" font-style="normal" fill="#111" >6</text>
<text transform="translate(9.70,313.90) rotate(-90)" font-size="10.0" text-anchor="middle" fill="#111">Th17 cells (%)</text>
<text x="53.20" y="381.90" font-size="10" text-anchor="middle" font-weight="normal" font-style="normal" fill="#111" >Control</text>
<line x1="53.20" y1="369.20" x2="53.20" y2="366.20" stroke="#222" stroke-width="0.7"/>
<text x="104.30" y="381.90" font-size="10" text-anchor="middle" font-weight="normal" font-style="normal" fill="#111" >DG</text>
<line x1="104.30" y1="369.20" x2="104.30" y2="366.20" stroke="#222" stroke-width="0.7"/>
<text x="155.10" y="381.90" font-size="10" text-anchor="middle" font-weight="normal" font-style="normal" fill="#111" >CR</text>
<line x1="155.10" y1="369.20" x2="155.10" y2="366.20" stroke="#222" stroke-width="0.7"/>
<text x="206.20" y="381.90" font-size="10" text-anchor="middle" font-weight="normal" font-style="normal" fill="#111" >PR</text>
<line x1="206.20" y1="369.20" x2="206.20" y2="366.20" stroke="#222" stroke-width="0.7"/>
<path d="M57.80 266.70V263.90Q57.80 263.10 58.60 263.10H107.40Q108.20 263.10 108.20 263.90V266.70" fill="none" stroke="#3a3a3a" stroke-width="1.0"/>
<text x="82.30" y="257.00" font-size="7.3" text-anchor="middle" fill="#000"><tspan font-style="italic">P</tspan> &lt; .001</text>
<path d="M110.40 266.70V263.90Q110.40 263.10 111.20 263.10H160.30Q161.10 263.10 161.10 263.90V266.70" fill="none" stroke="#3a3a3a" stroke-width="1.0"/>
<text x="135.85" y="257.00" font-size="7.3" text-anchor="middle" fill="#000"><tspan font-style="italic">P</tspan> = .02</text>
<path d="M163.60 266.70V263.90Q163.60 263.10 164.40 263.10H213.20Q214.00 263.10 214.00 263.90V266.70" fill="none" stroke="#3a3a3a" stroke-width="1.0"/>
<text x="188.90" y="257.00" font-size="7.3" text-anchor="middle" fill="#000"><tspan font-style="italic">P</tspan> = .05</text>
<circle cx="53.20" cy="367.64" r="2.6" fill="#000"/>
<circle cx="53.20" cy="365.77" r="2.6" fill="#000"/>
<circle cx="53.20" cy="362.80" r="2.6" fill="#000"/>
<circle cx="53.20" cy="359.84" r="2.6" fill="#000"/>
<circle cx="53.20" cy="356.88" r="2.6" fill="#000"/>
<circle cx="53.20" cy="353.91" r="2.6" fill="#000"/>
<circle cx="53.20" cy="350.95" r="2.6" fill="#000"/>
<circle cx="53.20" cy="350.17" r="2.6" fill="#000"/>
<line x1="47.10" y1="360.15" x2="59.40" y2="360.15" stroke="#000" stroke-width="1.4"/>
<rect x="101.85" y="354.00" width="4.9" height="5" fill="#f4f4f4" stroke="#333" stroke-width="0.6"/>
<rect x="101.85" y="352.80" width="4.9" height="5" fill="#f4f4f4" stroke="#333" stroke-width="0.6"/>
<rect x="101.85" y="349.70" width="4.9" height="5" fill="#f4f4f4" stroke="#333" stroke-width="0.6"/>
<rect x="101.85" y="347.20" width="4.9" height="5" fill="#f4f4f4" stroke="#333" stroke-width="0.6"/>
<rect x="101.85" y="344.50" width="4.9" height="5" fill="#f4f4f4" stroke="#333" stroke-width="0.6"/>
<rect x="101.85" y="341.90" width="4.9" height="5" fill="#f4f4f4" stroke="#333" stroke-width="0.6"/>
<polygon points="104.30,336.81 107.15,342.31 101.45,342.31" fill="#fff" stroke="#222" stroke-width="0.65"/>
<polygon points="104.30,333.69 107.15,339.19 101.45,339.19" fill="#fff" stroke="#222" stroke-width="0.65"/>
<polygon points="104.30,329.32 107.15,334.82 101.45,334.82" fill="#fff" stroke="#222" stroke-width="0.65"/>
<polygon points="104.30,325.27 107.15,330.77 101.45,330.77" fill="#fff" stroke="#222" stroke-width="0.65"/>
<polygon points="104.30,319.65 107.15,325.15 101.45,325.15" fill="#fff" stroke="#222" stroke-width="0.65"/>
<polygon points="104.30,304.05 107.15,309.55 101.45,309.55" fill="#fff" stroke="#222" stroke-width="0.65"/>
<polygon points="104.30,272.85 107.15,278.35 101.45,278.35" fill="#fff" stroke="#222" stroke-width="0.65"/>
<line x1="98.20" y1="333.79" x2="110.50" y2="333.79" stroke="#000" stroke-width="1.4"/>
<polygon points="155.10,366.20 158.40,372.20 151.80,372.20" fill="#000"/>
<polygon points="155.10,363.08 158.40,369.08 151.80,369.08" fill="#000"/>
<polygon points="155.10,359.96 158.40,365.96 151.80,365.96" fill="#000"/>
<polygon points="155.10,356.84 158.40,362.84 151.80,362.84" fill="#000"/>
<polygon points="155.10,353.72 158.40,359.72 151.80,359.72" fill="#000"/>
<polygon points="155.10,350.60 158.40,356.60 151.80,356.60" fill="#000"/>
<polygon points="155.10,347.48 158.40,353.48 151.80,353.48" fill="#000"/>
<polygon points="155.10,345.61 158.40,351.61 151.80,351.61" fill="#000"/>
<polygon points="155.10,336.56 158.40,342.56 151.80,342.56" fill="#000"/>
<polygon points="155.10,333.75 158.40,339.75 151.80,339.75" fill="#000"/>
<polygon points="155.10,330.32 158.40,336.32 151.80,336.32" fill="#000"/>
<line x1="149.00" y1="352.35" x2="161.30" y2="352.35" stroke="#000" stroke-width="1.4"/>
<circle cx="206.20" cy="366.08" r="2.8" fill="#fff" stroke="#222" stroke-width="0.7"/>
<circle cx="206.20" cy="363.74" r="2.8" fill="#fff" stroke="#222" stroke-width="0.7"/>
<circle cx="206.20" cy="357.50" r="2.8" fill="#fff" stroke="#222" stroke-width="0.7"/>
<circle cx="206.20" cy="355.47" r="2.8" fill="#fff" stroke="#222" stroke-width="0.7"/>
<circle cx="206.20" cy="352.04" r="2.8" fill="#fff" stroke="#222" stroke-width="0.7"/>
<circle cx="206.20" cy="348.14" r="2.8" fill="#fff" stroke="#222" stroke-width="0.7"/>
<circle cx="206.20" cy="329.58" r="2.8" fill="#fff" stroke="#222" stroke-width="0.7"/>
<circle cx="206.20" cy="325.99" r="2.8" fill="#fff" stroke="#222" stroke-width="0.7"/>
<circle cx="206.20" cy="322.09" r="2.8" fill="#fff" stroke="#222" stroke-width="0.7"/>
<circle cx="206.20" cy="302.12" r="2.8" fill="#fff" stroke="#222" stroke-width="0.7"/>
<circle cx="206.20" cy="299.47" r="2.8" fill="#fff" stroke="#222" stroke-width="0.7"/>
<line x1="200.10" y1="337.69" x2="212.40" y2="337.69" stroke="#000" stroke-width="1.4"/>
<circle cx="206.20" cy="337.69" r="2.8" fill="#fff" stroke="#222" stroke-width="0.7"/>
<text x="2.20" y="408.60" font-size="10.8" text-anchor="start" font-weight="bold" font-style="normal" fill="#000" >C</text>
<line x1="29.50" y1="406.60" x2="29.50" y2="518.45" stroke="#111" stroke-width="0.95"/>
<line x1="29.05" y1="518.00" x2="229.70" y2="518.00" stroke="#111" stroke-width="0.95"/>
<line x1="26.00" y1="518.00" x2="29.50" y2="518.00" stroke="#111" stroke-width="0.85"/>
<text x="25.20" y="521.20" font-size="9" text-anchor="end" font-weight="normal" font-style="normal" fill="#111" >0</text>
<line x1="26.00" y1="486.70" x2="29.50" y2="486.70" stroke="#111" stroke-width="0.85"/>
<text x="25.20" y="489.90" font-size="9" text-anchor="end" font-weight="normal" font-style="normal" fill="#111" >10</text>
<line x1="26.00" y1="455.40" x2="29.50" y2="455.40" stroke="#111" stroke-width="0.85"/>
<text x="25.20" y="458.60" font-size="9" text-anchor="end" font-weight="normal" font-style="normal" fill="#111" >20</text>
<line x1="26.00" y1="424.10" x2="29.50" y2="424.10" stroke="#111" stroke-width="0.85"/>
<text x="25.20" y="427.30" font-size="9" text-anchor="end" font-weight="normal" font-style="normal" fill="#111" >30</text>
<text transform="translate(9.70,462.50) rotate(-90)" font-size="10.0" text-anchor="middle" fill="#111">Th17 cells (millions/L)</text>
<text x="53.20" y="530.60" font-size="10" text-anchor="middle" font-weight="normal" font-style="normal" fill="#111" >Control</text>
<line x1="53.20" y1="518.00" x2="53.20" y2="515.00" stroke="#222" stroke-width="0.7"/>
<text x="104.30" y="530.60" font-size="10" text-anchor="middle" font-weight="normal" font-style="normal" fill="#111" >DG</text>
<line x1="104.30" y1="518.00" x2="104.30" y2="515.00" stroke="#222" stroke-width="0.7"/>
<text x="155.10" y="530.60" font-size="10" text-anchor="middle" font-weight="normal" font-style="normal" fill="#111" >CR</text>
<line x1="155.10" y1="518.00" x2="155.10" y2="515.00" stroke="#222" stroke-width="0.7"/>
<text x="206.20" y="530.60" font-size="10" text-anchor="middle" font-weight="normal" font-style="normal" fill="#111" >PR</text>
<line x1="206.20" y1="518.00" x2="206.20" y2="515.00" stroke="#222" stroke-width="0.7"/>
<path d="M57.80 415.50V412.70Q57.80 411.90 58.60 411.90H107.40Q108.20 411.90 108.20 412.70V415.50" fill="none" stroke="#3a3a3a" stroke-width="1.0"/>
<text x="82.30" y="406.40" font-size="7.3" text-anchor="middle" fill="#000"><tspan font-style="italic">P</tspan> = .02</text>
<path d="M110.40 415.50V412.70Q110.40 411.90 111.20 411.90H160.30Q161.10 411.90 161.10 412.70V415.50" fill="none" stroke="#3a3a3a" stroke-width="1.0"/>
<text x="135.85" y="406.40" font-size="7.3" text-anchor="middle" fill="#000"><tspan font-style="italic">P</tspan> &lt; .01</text>
<path d="M163.60 415.50V412.70Q163.60 411.90 164.40 411.90H213.20Q214.00 411.90 214.00 412.70V415.50" fill="none" stroke="#3a3a3a" stroke-width="1.0"/>
<text x="188.90" y="406.40" font-size="7.3" text-anchor="middle" fill="#000"><tspan font-style="italic">P</tspan> = .34</text>
<circle cx="53.20" cy="513.30" r="2.6" fill="#000"/>
<circle cx="53.20" cy="510.80" r="2.6" fill="#000"/>
<circle cx="53.20" cy="508.30" r="2.6" fill="#000"/>
<circle cx="53.20" cy="505.79" r="2.6" fill="#000"/>
<circle cx="53.20" cy="503.29" r="2.6" fill="#000"/>
<circle cx="53.20" cy="500.79" r="2.6" fill="#000"/>
<circle cx="53.20" cy="498.28" r="2.6" fill="#000"/>
<circle cx="53.20" cy="495.78" r="2.6" fill="#000"/>
<circle cx="53.20" cy="493.27" r="2.6" fill="#000"/>
<circle cx="53.20" cy="490.77" r="2.6" fill="#000"/>
<circle cx="53.20" cy="484.51" r="2.6" fill="#000"/>
<line x1="47.10" y1="501.10" x2="59.40" y2="501.10" stroke="#000" stroke-width="1.4"/>
<polygon points="104.30,511.18 107.15,516.68 101.45,516.68" fill="#fff" stroke="#222" stroke-width="0.65"/>
<rect x="101.85" y="503.70" width="4.9" height="5" fill="#f4f4f4" stroke="#333" stroke-width="0.6"/>
<rect x="101.85" y="500.90" width="4.9" height="5" fill="#f4f4f4" stroke="#333" stroke-width="0.6"/>
<rect x="101.85" y="497.50" width="4.9" height="5" fill="#f4f4f4" stroke="#333" stroke-width="0.6"/>
<polygon points="104.30,490.52 107.15,496.02 101.45,496.02" fill="#fff" stroke="#222" stroke-width="0.65"/>
<rect x="101.85" y="486.50" width="4.9" height="5" fill="#f4f4f4" stroke="#333" stroke-width="0.6"/>
<rect x="101.85" y="484.00" width="4.9" height="5" fill="#f4f4f4" stroke="#333" stroke-width="0.6"/>
<polygon points="104.30,476.44 107.15,481.94 101.45,481.94" fill="#fff" stroke="#222" stroke-width="0.65"/>
<polygon points="104.30,466.74 107.15,472.24 101.45,472.24" fill="#fff" stroke="#222" stroke-width="0.65"/>
<polygon points="104.30,460.16 107.15,465.66 101.45,465.66" fill="#fff" stroke="#222" stroke-width="0.65"/>
<polygon points="104.30,438.56 107.15,444.06 101.45,444.06" fill="#fff" stroke="#222" stroke-width="0.65"/>
<polygon points="104.30,432.62 107.15,438.12 101.45,438.12" fill="#fff" stroke="#222" stroke-width="0.65"/>
<polygon points="104.30,427.30 107.15,432.80 101.45,432.80" fill="#fff" stroke="#222" stroke-width="0.65"/>
<line x1="98.20" y1="482.32" x2="110.50" y2="482.32" stroke="#000" stroke-width="1.4"/>
<polygon points="155.10,514.37 158.40,520.37 151.80,520.37" fill="#000"/>
<polygon points="155.10,512.18 158.40,518.18 151.80,518.18" fill="#000"/>
<polygon points="155.10,509.68 158.40,515.68 151.80,515.68" fill="#000"/>
<polygon points="155.10,507.18 158.40,513.17 151.80,513.17" fill="#000"/>
<polygon points="155.10,504.67 158.40,510.67 151.80,510.67" fill="#000"/>
<polygon points="155.10,502.17 158.40,508.17 151.80,508.17" fill="#000"/>
<polygon points="155.10,499.66 158.40,505.66 151.80,505.66" fill="#000"/>
<polygon points="155.10,497.16 158.40,503.16 151.80,503.16" fill="#000"/>
<polygon points="155.10,494.65 158.40,500.65 151.80,500.65" fill="#000"/>
<polygon points="155.10,481.51 158.40,487.51 151.80,487.51" fill="#000"/>
<line x1="149.00" y1="506.42" x2="161.30" y2="506.42" stroke="#000" stroke-width="1.4"/>
<circle cx="206.20" cy="518.00" r="2.8" fill="#fff" stroke="#222" stroke-width="0.7"/>
<circle cx="206.20" cy="515.18" r="2.8" fill="#fff" stroke="#222" stroke-width="0.7"/>
<circle cx="206.20" cy="512.37" r="2.8" fill="#fff" stroke="#222" stroke-width="0.7"/>
<circle cx="206.20" cy="509.55" r="2.8" fill="#fff" stroke="#222" stroke-width="0.7"/>
<circle cx="206.20" cy="507.05" r="2.8" fill="#fff" stroke="#222" stroke-width="0.7"/>
<circle cx="206.20" cy="504.54" r="2.8" fill="#fff" stroke="#222" stroke-width="0.7"/>
<circle cx="206.20" cy="497.65" r="2.8" fill="#fff" stroke="#222" stroke-width="0.7"/>
<circle cx="206.20" cy="485.13" r="2.8" fill="#fff" stroke="#222" stroke-width="0.7"/>
<circle cx="206.20" cy="482.00" r="2.8" fill="#fff" stroke="#222" stroke-width="0.7"/>
<line x1="200.10" y1="502.66" x2="212.40" y2="502.66" stroke="#000" stroke-width="1.4"/>
<text x="256.40" y="11.00" font-size="11" text-anchor="start" font-weight="bold" font-style="normal" fill="#000" >D</text>
<rect x="281.90" y="105.25" width="96.70" height="7.65" fill="#dfdfdf"/>
<line x1="280.70" y1="13.75" x2="280.70" y2="113.35" stroke="#111" stroke-width="0.95"/>
<line x1="280.25" y1="112.90" x2="378.90" y2="112.90" stroke="#111" stroke-width="0.95"/>
<line x1="277.40" y1="112.90" x2="280.70" y2="112.90" stroke="#111" stroke-width="0.85"/>
<text x="276.00" y="116.30" font-size="8.2" text-anchor="end" font-weight="normal" font-style="normal" fill="#111" >0</text>
<line x1="277.40" y1="88.22" x2="280.70" y2="88.22" stroke="#111" stroke-width="0.85"/>
<text x="276.00" y="91.62" font-size="8.2" text-anchor="end" font-weight="normal" font-style="normal" fill="#111" >2</text>
<line x1="277.40" y1="63.54" x2="280.70" y2="63.54" stroke="#111" stroke-width="0.85"/>
<text x="276.00" y="66.94" font-size="8.2" text-anchor="end" font-weight="normal" font-style="normal" fill="#111" >4</text>
<line x1="277.40" y1="38.86" x2="280.70" y2="38.86" stroke="#111" stroke-width="0.85"/>
<text x="276.00" y="42.26" font-size="8.2" text-anchor="end" font-weight="normal" font-style="normal" fill="#111" >6</text>
<line x1="277.40" y1="14.18" x2="280.70" y2="14.18" stroke="#111" stroke-width="0.85"/>
<text x="276.00" y="17.58" font-size="8.2" text-anchor="end" font-weight="normal" font-style="normal" fill="#111" >8</text>
<line x1="295.00" y1="112.90" x2="295.00" y2="109.90" stroke="#111" stroke-width="0.8"/>
<text x="294.30" y="122.20" font-size="8.4" text-anchor="middle" font-weight="normal" font-style="normal" fill="#111" >DG</text>
<line x1="363.70" y1="112.90" x2="363.70" y2="109.90" stroke="#111" stroke-width="0.8"/>
<text x="363.60" y="122.20" font-size="8.4" text-anchor="middle" font-weight="normal" font-style="normal" fill="#111" >CR</text>
<text transform="translate(262.60,64.50) rotate(-90)" font-size="8.4" text-anchor="middle" fill="#111">Th17 cells (%)</text>
<line x1="295.00" y1="38.86" x2="363.70" y2="95.38" stroke="#000" stroke-width="1.15"/>
<line x1="295.00" y1="75.88" x2="363.70" y2="97.23" stroke="#000" stroke-width="1.15"/>
<line x1="295.00" y1="93.16" x2="363.70" y2="102.90" stroke="#000" stroke-width="1.15"/>
<line x1="295.00" y1="100.19" x2="363.70" y2="106.48" stroke="#000" stroke-width="1.15"/>
<line x1="295.00" y1="102.29" x2="363.70" y2="108.83" stroke="#000" stroke-width="1.15"/>
<circle cx="295.00" cy="38.86" r="1.85" fill="#000"/><circle cx="363.70" cy="95.38" r="1.85" fill="#000"/>
<circle cx="295.00" cy="75.88" r="1.85" fill="#000"/><circle cx="363.70" cy="97.23" r="1.85" fill="#000"/>
<circle cx="295.00" cy="93.16" r="1.85" fill="#000"/><circle cx="363.70" cy="102.90" r="1.85" fill="#000"/>
<circle cx="295.00" cy="100.19" r="1.85" fill="#000"/><circle cx="363.70" cy="106.48" r="1.85" fill="#000"/>
<circle cx="295.00" cy="102.29" r="1.85" fill="#000"/><circle cx="363.70" cy="108.83" r="1.85" fill="#000"/>
<rect x="420.70" y="88.23" width="96.20" height="24.67" fill="#dfdfdf"/>
<line x1="419.50" y1="13.75" x2="419.50" y2="113.35" stroke="#111" stroke-width="0.95"/>
<line x1="419.05" y1="112.90" x2="517.20" y2="112.90" stroke="#111" stroke-width="0.95"/>
<line x1="416.20" y1="112.90" x2="419.50" y2="112.90" stroke="#111" stroke-width="0.85"/>
<text x="414.80" y="116.30" font-size="8.2" text-anchor="end" font-weight="normal" font-style="normal" fill="#111" >0</text>
<line x1="416.20" y1="88.23" x2="419.50" y2="88.23" stroke="#111" stroke-width="0.85"/>
<text x="414.80" y="91.63" font-size="8.2" text-anchor="end" font-weight="normal" font-style="normal" fill="#111" >5</text>
<line x1="416.20" y1="63.55" x2="419.50" y2="63.55" stroke="#111" stroke-width="0.85"/>
<text x="414.80" y="66.95" font-size="8.2" text-anchor="end" font-weight="normal" font-style="normal" fill="#111" >10</text>
<line x1="416.20" y1="38.88" x2="419.50" y2="38.88" stroke="#111" stroke-width="0.85"/>
<text x="414.80" y="42.28" font-size="8.2" text-anchor="end" font-weight="normal" font-style="normal" fill="#111" >15</text>
<line x1="416.20" y1="14.20" x2="419.50" y2="14.20" stroke="#111" stroke-width="0.85"/>
<text x="414.80" y="17.60" font-size="8.2" text-anchor="end" font-weight="normal" font-style="normal" fill="#111" >20</text>
<line x1="433.80" y1="112.90" x2="433.80" y2="109.90" stroke="#111" stroke-width="0.8"/>
<text x="433.10" y="122.20" font-size="8.4" text-anchor="middle" font-weight="normal" font-style="normal" fill="#111" >DG</text>
<line x1="502.50" y1="112.90" x2="502.50" y2="109.90" stroke="#111" stroke-width="0.8"/>
<text x="502.40" y="122.20" font-size="8.4" text-anchor="middle" font-weight="normal" font-style="normal" fill="#111" >CR</text>
<text transform="translate(399.00,63.80) rotate(-90)" font-size="8.3" text-anchor="middle" fill="#111">Th17 cells (millions/L)</text>
<line x1="433.80" y1="14.20" x2="502.50" y2="90.20" stroke="#000" stroke-width="1.15"/>
<line x1="433.80" y1="55.65" x2="502.50" y2="107.97" stroke="#000" stroke-width="1.15"/>
<line x1="433.80" y1="83.29" x2="502.50" y2="94.64" stroke="#000" stroke-width="1.15"/>
<line x1="433.80" y1="88.23" x2="502.50" y2="104.51" stroke="#000" stroke-width="1.15"/>
<line x1="433.80" y1="95.63" x2="502.50" y2="109.94" stroke="#000" stroke-width="1.15"/>
<circle cx="433.80" cy="14.20" r="1.85" fill="#000"/><circle cx="502.50" cy="90.20" r="1.85" fill="#000"/>
<circle cx="433.80" cy="55.65" r="1.85" fill="#000"/><circle cx="502.50" cy="107.97" r="1.85" fill="#000"/>
<circle cx="433.80" cy="83.29" r="1.85" fill="#000"/><circle cx="502.50" cy="94.64" r="1.85" fill="#000"/>
<circle cx="433.80" cy="88.23" r="1.85" fill="#000"/><circle cx="502.50" cy="104.51" r="1.85" fill="#000"/>
<circle cx="433.80" cy="95.63" r="1.85" fill="#000"/><circle cx="502.50" cy="109.94" r="1.85" fill="#000"/>
<text x="256.40" y="147.50" font-size="11" text-anchor="start" font-weight="bold" font-style="normal" fill="#000" >E</text>
<rect x="281.90" y="243.28" width="96.70" height="8.02" fill="#dfdfdf"/>
<line x1="280.70" y1="152.15" x2="280.70" y2="251.75" stroke="#111" stroke-width="0.95"/>
<line x1="280.25" y1="251.30" x2="378.90" y2="251.30" stroke="#111" stroke-width="0.95"/>
<line x1="277.40" y1="251.30" x2="280.70" y2="251.30" stroke="#111" stroke-width="0.85"/>
<text x="276.00" y="254.70" font-size="8.2" text-anchor="end" font-weight="normal" font-style="normal" fill="#111" >0</text>
<line x1="277.40" y1="226.62" x2="280.70" y2="226.62" stroke="#111" stroke-width="0.85"/>
<text x="276.00" y="230.02" font-size="8.2" text-anchor="end" font-weight="normal" font-style="normal" fill="#111" >2</text>
<line x1="277.40" y1="201.94" x2="280.70" y2="201.94" stroke="#111" stroke-width="0.85"/>
<text x="276.00" y="205.34" font-size="8.2" text-anchor="end" font-weight="normal" font-style="normal" fill="#111" >4</text>
<line x1="277.40" y1="177.26" x2="280.70" y2="177.26" stroke="#111" stroke-width="0.85"/>
<text x="276.00" y="180.66" font-size="8.2" text-anchor="end" font-weight="normal" font-style="normal" fill="#111" >6</text>
<line x1="277.40" y1="152.58" x2="280.70" y2="152.58" stroke="#111" stroke-width="0.85"/>
<text x="276.00" y="155.98" font-size="8.2" text-anchor="end" font-weight="normal" font-style="normal" fill="#111" >8</text>
<line x1="295.00" y1="251.30" x2="295.00" y2="248.30" stroke="#111" stroke-width="0.8"/>
<text x="294.30" y="260.80" font-size="8.4" text-anchor="middle" font-weight="normal" font-style="normal" fill="#111" >DG</text>
<line x1="363.70" y1="251.30" x2="363.70" y2="248.30" stroke="#111" stroke-width="0.8"/>
<text x="363.60" y="260.80" font-size="8.4" text-anchor="middle" font-weight="normal" font-style="normal" fill="#111" >CR</text>
<text transform="translate(262.60,203.50) rotate(-90)" font-size="8.4" text-anchor="middle" fill="#111">Th17 cells (%)</text>
<line x1="295.00" y1="178.12" x2="363.70" y2="196.39" stroke="#000" stroke-width="1.15"/>
<line x1="295.00" y1="230.94" x2="363.70" y2="227.24" stroke="#000" stroke-width="1.15"/>
<line x1="295.00" y1="233.41" x2="363.70" y2="227.24" stroke="#000" stroke-width="1.15"/>
<line x1="295.00" y1="235.26" x2="363.70" y2="219.83" stroke="#000" stroke-width="1.15"/>
<line x1="295.00" y1="237.11" x2="363.70" y2="217.98" stroke="#000" stroke-width="1.15"/>
<circle cx="295.00" cy="178.12" r="1.85" fill="#000"/><circle cx="363.70" cy="196.39" r="1.85" fill="#000"/>
<circle cx="295.00" cy="230.94" r="1.85" fill="#000"/><circle cx="363.70" cy="227.24" r="1.85" fill="#000"/>
<circle cx="295.00" cy="233.41" r="1.85" fill="#000"/><circle cx="363.70" cy="227.24" r="1.85" fill="#000"/>
<circle cx="295.00" cy="235.26" r="1.85" fill="#000"/><circle cx="363.70" cy="219.83" r="1.85" fill="#000"/>
<circle cx="295.00" cy="237.11" r="1.85" fill="#000"/><circle cx="363.70" cy="217.98" r="1.85" fill="#000"/>
<rect x="420.70" y="226.62" width="96.20" height="24.67" fill="#dfdfdf"/>
<line x1="419.50" y1="152.15" x2="419.50" y2="251.75" stroke="#111" stroke-width="0.95"/>
<line x1="419.05" y1="251.30" x2="517.20" y2="251.30" stroke="#111" stroke-width="0.95"/>
<line x1="416.20" y1="251.30" x2="419.50" y2="251.30" stroke="#111" stroke-width="0.85"/>
<text x="414.80" y="254.70" font-size="8.2" text-anchor="end" font-weight="normal" font-style="normal" fill="#111" >0</text>
<line x1="416.20" y1="226.62" x2="419.50" y2="226.62" stroke="#111" stroke-width="0.85"/>
<text x="414.80" y="230.03" font-size="8.2" text-anchor="end" font-weight="normal" font-style="normal" fill="#111" >5</text>
<line x1="416.20" y1="201.95" x2="419.50" y2="201.95" stroke="#111" stroke-width="0.85"/>
<text x="414.80" y="205.35" font-size="8.2" text-anchor="end" font-weight="normal" font-style="normal" fill="#111" >10</text>
<line x1="416.20" y1="177.28" x2="419.50" y2="177.28" stroke="#111" stroke-width="0.85"/>
<text x="414.80" y="180.68" font-size="8.2" text-anchor="end" font-weight="normal" font-style="normal" fill="#111" >15</text>
<line x1="416.20" y1="152.60" x2="419.50" y2="152.60" stroke="#111" stroke-width="0.85"/>
<text x="414.80" y="156.00" font-size="8.2" text-anchor="end" font-weight="normal" font-style="normal" fill="#111" >20</text>
<line x1="433.80" y1="251.30" x2="433.80" y2="248.30" stroke="#111" stroke-width="0.8"/>
<text x="433.10" y="260.80" font-size="8.4" text-anchor="middle" font-weight="normal" font-style="normal" fill="#111" >DG</text>
<line x1="502.50" y1="251.30" x2="502.50" y2="248.30" stroke="#111" stroke-width="0.8"/>
<text x="502.40" y="260.80" font-size="8.4" text-anchor="middle" font-weight="normal" font-style="normal" fill="#111" >CR</text>
<text transform="translate(399.00,201.30) rotate(-90)" font-size="8.3" text-anchor="middle" fill="#111">Th17 cells (millions/L)</text>
<line x1="433.80" y1="165.92" x2="502.50" y2="199.98" stroke="#000" stroke-width="1.15"/>
<line x1="433.80" y1="201.95" x2="502.50" y2="233.04" stroke="#000" stroke-width="1.15"/>
<line x1="433.80" y1="204.91" x2="502.50" y2="220.70" stroke="#000" stroke-width="1.15"/>
<line x1="433.80" y1="227.61" x2="502.50" y2="225.14" stroke="#000" stroke-width="1.15"/>
<line x1="433.80" y1="246.37" x2="502.50" y2="236.00" stroke="#000" stroke-width="1.15"/>
<circle cx="433.80" cy="165.92" r="1.85" fill="#000"/><circle cx="502.50" cy="199.98" r="1.85" fill="#000"/>
<circle cx="433.80" cy="201.95" r="1.85" fill="#000"/><circle cx="502.50" cy="233.04" r="1.85" fill="#000"/>
<circle cx="433.80" cy="204.91" r="1.85" fill="#000"/><circle cx="502.50" cy="220.70" r="1.85" fill="#000"/>
<circle cx="433.80" cy="227.61" r="1.85" fill="#000"/><circle cx="502.50" cy="225.14" r="1.85" fill="#000"/>
<circle cx="433.80" cy="246.37" r="1.85" fill="#000"/><circle cx="502.50" cy="236.00" r="1.85" fill="#000"/>
</svg>
</body></html>
